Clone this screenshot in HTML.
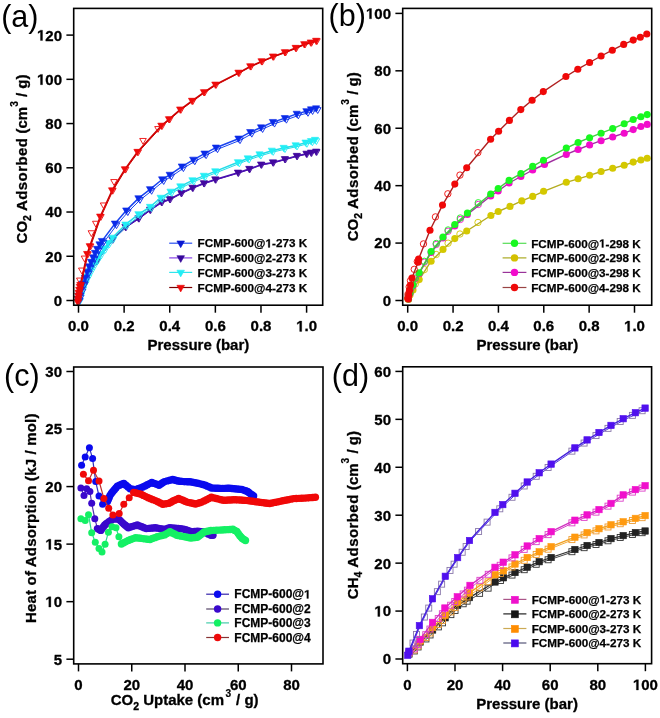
<!DOCTYPE html>
<html><head><meta charset="utf-8"><style>
html,body{margin:0;padding:0;background:#fff;width:660px;height:718px;overflow:hidden}
svg{display:block;filter:blur(0.35px)}
text{font-family:"Liberation Sans", sans-serif}
.t{font-size:15px;font-weight:bold;stroke:#000;stroke-width:0.3px}
.al{font-size:15px;font-weight:bold;stroke:#000;stroke-width:0.3px}
.lg{font-size:11.7px;font-weight:bold;stroke:#000;stroke-width:0.25px}
.pl{font-size:30.5px;font-weight:normal}
.one{fill:none;stroke:none}
.sup{font-size:10.2px;font-weight:bold;stroke:#000;stroke-width:0.2px}
</style></head><body>
<svg width="660" height="718" viewBox="0 0 660 718">
<rect width="660" height="718" fill="#fff"/>
<polyline points="79.1,300.9 80.6,295.4 85.1,284.4 97.2,261.4 112.9,239.9 126,227.4 139,218.8 150.6,210.2 162,202.6 170.3,199.6 181.7,193.5 193,188.2 204.4,183.7 215.8,179.9 238.5,173.1 249.8,169.4 261.6,165 273.5,162.9 285.4,159.6 297.3,156.4 307,154.2 311.6,153.1 316.7,152.1" fill="none" stroke="#4a10b0" stroke-width="1.0" stroke-linejoin="round" stroke-linecap="round" />
<polygon points="75.8,298.46 82.4,298.46 79.1,304.27" fill="none" stroke="#42089e" stroke-width="0.9"/>
<polygon points="77.3,292.96 83.9,292.96 80.6,298.77" fill="none" stroke="#42089e" stroke-width="0.9"/>
<polygon points="81.8,281.96 88.4,281.96 85.1,287.77" fill="none" stroke="#42089e" stroke-width="0.9"/>
<polygon points="93.9,258.96 100.5,258.96 97.2,264.77" fill="none" stroke="#42089e" stroke-width="0.9"/>
<polygon points="109.6,237.46 116.2,237.46 112.9,243.27" fill="none" stroke="#42089e" stroke-width="0.9"/>
<polygon points="122.7,224.96 129.3,224.96 126,230.77" fill="none" stroke="#42089e" stroke-width="0.9"/>
<polygon points="135.7,216.36 142.3,216.36 139,222.17" fill="none" stroke="#42089e" stroke-width="0.9"/>
<polygon points="147.3,207.76 153.9,207.76 150.6,213.57" fill="none" stroke="#42089e" stroke-width="0.9"/>
<polygon points="158.7,200.16 165.3,200.16 162,205.97" fill="none" stroke="#42089e" stroke-width="0.9"/>
<polygon points="167,197.16 173.6,197.16 170.3,202.97" fill="none" stroke="#42089e" stroke-width="0.9"/>
<polygon points="178.4,191.06 185,191.06 181.7,196.87" fill="none" stroke="#42089e" stroke-width="0.9"/>
<polygon points="189.7,185.76 196.3,185.76 193,191.57" fill="none" stroke="#42089e" stroke-width="0.9"/>
<polygon points="201.1,181.26 207.7,181.26 204.4,187.07" fill="none" stroke="#42089e" stroke-width="0.9"/>
<polygon points="212.5,177.46 219.1,177.46 215.8,183.27" fill="none" stroke="#42089e" stroke-width="0.9"/>
<polygon points="235.2,170.66 241.8,170.66 238.5,176.47" fill="none" stroke="#42089e" stroke-width="0.9"/>
<polygon points="246.5,166.96 253.1,166.96 249.8,172.77" fill="none" stroke="#42089e" stroke-width="0.9"/>
<polygon points="258.3,162.56 264.9,162.56 261.6,168.37" fill="none" stroke="#42089e" stroke-width="0.9"/>
<polygon points="270.2,160.46 276.8,160.46 273.5,166.27" fill="none" stroke="#42089e" stroke-width="0.9"/>
<polygon points="282.1,157.16 288.7,157.16 285.4,162.97" fill="none" stroke="#42089e" stroke-width="0.9"/>
<polygon points="294,153.96 300.6,153.96 297.3,159.77" fill="none" stroke="#42089e" stroke-width="0.9"/>
<polygon points="303.7,151.76 310.3,151.76 307,157.57" fill="none" stroke="#42089e" stroke-width="0.9"/>
<polygon points="308.3,150.66 314.9,150.66 311.6,156.47" fill="none" stroke="#42089e" stroke-width="0.9"/>
<polygon points="313.4,149.66 320,149.66 316.7,155.47" fill="none" stroke="#42089e" stroke-width="0.9"/>
<polyline points="78.5,300.5 80,295 84.5,284 96.6,261 112.3,239.5 125.4,227 138.4,218.4 150,209.8 161.4,202.2 169.7,199.2 181.1,193.1 192.4,187.8 203.8,183.3 215.2,179.5 237.9,172.7 249.2,169 261,164.6 272.9,162.5 284.8,159.2 296.7,156 306.4,153.8 311,152.7 316.1,151.7" fill="none" stroke="#4a10b0" stroke-width="1.5" stroke-linejoin="round" stroke-linecap="round" />
<polygon points="74.9,297.84 82.1,297.84 78.5,304.17" fill="#42089e" stroke="#42089e" stroke-width="0.6"/>
<polygon points="76.4,292.34 83.6,292.34 80,298.67" fill="#42089e" stroke="#42089e" stroke-width="0.6"/>
<polygon points="80.9,281.34 88.1,281.34 84.5,287.67" fill="#42089e" stroke="#42089e" stroke-width="0.6"/>
<polygon points="93,258.34 100.2,258.34 96.6,264.67" fill="#42089e" stroke="#42089e" stroke-width="0.6"/>
<polygon points="108.7,236.84 115.9,236.84 112.3,243.17" fill="#42089e" stroke="#42089e" stroke-width="0.6"/>
<polygon points="121.8,224.34 129,224.34 125.4,230.67" fill="#42089e" stroke="#42089e" stroke-width="0.6"/>
<polygon points="134.8,215.74 142,215.74 138.4,222.07" fill="#42089e" stroke="#42089e" stroke-width="0.6"/>
<polygon points="146.4,207.14 153.6,207.14 150,213.47" fill="#42089e" stroke="#42089e" stroke-width="0.6"/>
<polygon points="157.8,199.54 165,199.54 161.4,205.87" fill="#42089e" stroke="#42089e" stroke-width="0.6"/>
<polygon points="166.1,196.54 173.3,196.54 169.7,202.87" fill="#42089e" stroke="#42089e" stroke-width="0.6"/>
<polygon points="177.5,190.44 184.7,190.44 181.1,196.77" fill="#42089e" stroke="#42089e" stroke-width="0.6"/>
<polygon points="188.8,185.14 196,185.14 192.4,191.47" fill="#42089e" stroke="#42089e" stroke-width="0.6"/>
<polygon points="200.2,180.64 207.4,180.64 203.8,186.97" fill="#42089e" stroke="#42089e" stroke-width="0.6"/>
<polygon points="211.6,176.84 218.8,176.84 215.2,183.17" fill="#42089e" stroke="#42089e" stroke-width="0.6"/>
<polygon points="234.3,170.04 241.5,170.04 237.9,176.37" fill="#42089e" stroke="#42089e" stroke-width="0.6"/>
<polygon points="245.6,166.34 252.8,166.34 249.2,172.67" fill="#42089e" stroke="#42089e" stroke-width="0.6"/>
<polygon points="257.4,161.94 264.6,161.94 261,168.27" fill="#42089e" stroke="#42089e" stroke-width="0.6"/>
<polygon points="269.3,159.84 276.5,159.84 272.9,166.17" fill="#42089e" stroke="#42089e" stroke-width="0.6"/>
<polygon points="281.2,156.54 288.4,156.54 284.8,162.87" fill="#42089e" stroke="#42089e" stroke-width="0.6"/>
<polygon points="293.1,153.34 300.3,153.34 296.7,159.67" fill="#42089e" stroke="#42089e" stroke-width="0.6"/>
<polygon points="302.8,151.14 310,151.14 306.4,157.47" fill="#42089e" stroke="#42089e" stroke-width="0.6"/>
<polygon points="307.4,150.04 314.6,150.04 311,156.37" fill="#42089e" stroke="#42089e" stroke-width="0.6"/>
<polygon points="312.5,149.04 319.7,149.04 316.1,155.37" fill="#42089e" stroke="#42089e" stroke-width="0.6"/>
<polyline points="79.9,301.4 81.4,295.4 83.4,289.4 85.8,283.4 88.4,277.9 91.4,271.9 94.4,266.4 98,260.7 101.4,255.4 105.4,249.9 109.4,244.4 113.7,239 126.8,225.9 139.8,215.5 151.4,208.2 162,199.1 171.9,193 181.7,187.7 193.8,181.6 205.2,177.1 216.6,172.6 239.3,163.5 249.1,159.7 260.9,155.7 273.2,152 285,149.2 297,146.6 306.9,143.9 312.4,142.4 316.4,141.2" fill="none" stroke="#22dde8" stroke-width="1.0" stroke-linejoin="round" stroke-linecap="round" />
<polygon points="76.6,298.96 83.2,298.96 79.9,304.77" fill="none" stroke="#22eef5" stroke-width="0.9"/>
<polygon points="78.1,292.96 84.7,292.96 81.4,298.77" fill="none" stroke="#22eef5" stroke-width="0.9"/>
<polygon points="80.1,286.96 86.7,286.96 83.4,292.77" fill="none" stroke="#22eef5" stroke-width="0.9"/>
<polygon points="82.5,280.96 89.1,280.96 85.8,286.77" fill="none" stroke="#22eef5" stroke-width="0.9"/>
<polygon points="85.1,275.46 91.7,275.46 88.4,281.27" fill="none" stroke="#22eef5" stroke-width="0.9"/>
<polygon points="88.1,269.46 94.7,269.46 91.4,275.27" fill="none" stroke="#22eef5" stroke-width="0.9"/>
<polygon points="91.1,263.96 97.7,263.96 94.4,269.77" fill="none" stroke="#22eef5" stroke-width="0.9"/>
<polygon points="94.7,258.26 101.3,258.26 98,264.07" fill="none" stroke="#22eef5" stroke-width="0.9"/>
<polygon points="98.1,252.96 104.7,252.96 101.4,258.77" fill="none" stroke="#22eef5" stroke-width="0.9"/>
<polygon points="102.1,247.46 108.7,247.46 105.4,253.27" fill="none" stroke="#22eef5" stroke-width="0.9"/>
<polygon points="106.1,241.96 112.7,241.96 109.4,247.77" fill="none" stroke="#22eef5" stroke-width="0.9"/>
<polygon points="110.4,236.56 117,236.56 113.7,242.37" fill="none" stroke="#22eef5" stroke-width="0.9"/>
<polygon points="123.5,223.46 130.1,223.46 126.8,229.27" fill="none" stroke="#22eef5" stroke-width="0.9"/>
<polygon points="136.5,213.06 143.1,213.06 139.8,218.87" fill="none" stroke="#22eef5" stroke-width="0.9"/>
<polygon points="148.1,205.76 154.7,205.76 151.4,211.57" fill="none" stroke="#22eef5" stroke-width="0.9"/>
<polygon points="158.7,196.66 165.3,196.66 162,202.47" fill="none" stroke="#22eef5" stroke-width="0.9"/>
<polygon points="168.6,190.56 175.2,190.56 171.9,196.37" fill="none" stroke="#22eef5" stroke-width="0.9"/>
<polygon points="178.4,185.26 185,185.26 181.7,191.07" fill="none" stroke="#22eef5" stroke-width="0.9"/>
<polygon points="190.5,179.16 197.1,179.16 193.8,184.97" fill="none" stroke="#22eef5" stroke-width="0.9"/>
<polygon points="201.9,174.66 208.5,174.66 205.2,180.47" fill="none" stroke="#22eef5" stroke-width="0.9"/>
<polygon points="213.3,170.16 219.9,170.16 216.6,175.97" fill="none" stroke="#22eef5" stroke-width="0.9"/>
<polygon points="236,161.06 242.6,161.06 239.3,166.87" fill="none" stroke="#22eef5" stroke-width="0.9"/>
<polygon points="245.8,157.26 252.4,157.26 249.1,163.07" fill="none" stroke="#22eef5" stroke-width="0.9"/>
<polygon points="257.6,153.26 264.2,153.26 260.9,159.07" fill="none" stroke="#22eef5" stroke-width="0.9"/>
<polygon points="269.9,149.56 276.5,149.56 273.2,155.37" fill="none" stroke="#22eef5" stroke-width="0.9"/>
<polygon points="281.7,146.76 288.3,146.76 285,152.57" fill="none" stroke="#22eef5" stroke-width="0.9"/>
<polygon points="293.7,144.16 300.3,144.16 297,149.97" fill="none" stroke="#22eef5" stroke-width="0.9"/>
<polygon points="303.6,141.46 310.2,141.46 306.9,147.27" fill="none" stroke="#22eef5" stroke-width="0.9"/>
<polygon points="309.1,139.96 315.7,139.96 312.4,145.77" fill="none" stroke="#22eef5" stroke-width="0.9"/>
<polygon points="313.1,138.76 319.7,138.76 316.4,144.57" fill="none" stroke="#22eef5" stroke-width="0.9"/>
<polyline points="78.5,300.2 80,294.2 82,288.2 84.4,282.2 87,276.7 90,270.7 93,265.2 96.6,259.5 100,254.2 104,248.7 108,243.2 112.3,237.8 125.4,224.7 138.4,214.3 150,207 160.6,197.9 170.5,191.8 180.3,186.5 192.4,180.4 203.8,175.9 215.2,171.4 237.9,162.3 247.7,158.5 259.5,154.5 271.8,150.8 283.6,148 295.6,145.4 305.5,142.7 311,141.2 315,140" fill="none" stroke="#22dde8" stroke-width="1.5" stroke-linejoin="round" stroke-linecap="round" />
<polygon points="74.9,297.54 82.1,297.54 78.5,303.87" fill="#22eef5" stroke="#22eef5" stroke-width="0.6"/>
<polygon points="76.4,291.54 83.6,291.54 80,297.87" fill="#22eef5" stroke="#22eef5" stroke-width="0.6"/>
<polygon points="78.4,285.54 85.6,285.54 82,291.87" fill="#22eef5" stroke="#22eef5" stroke-width="0.6"/>
<polygon points="80.8,279.54 88,279.54 84.4,285.87" fill="#22eef5" stroke="#22eef5" stroke-width="0.6"/>
<polygon points="83.4,274.04 90.6,274.04 87,280.37" fill="#22eef5" stroke="#22eef5" stroke-width="0.6"/>
<polygon points="86.4,268.04 93.6,268.04 90,274.37" fill="#22eef5" stroke="#22eef5" stroke-width="0.6"/>
<polygon points="89.4,262.54 96.6,262.54 93,268.87" fill="#22eef5" stroke="#22eef5" stroke-width="0.6"/>
<polygon points="93,256.84 100.2,256.84 96.6,263.17" fill="#22eef5" stroke="#22eef5" stroke-width="0.6"/>
<polygon points="96.4,251.54 103.6,251.54 100,257.87" fill="#22eef5" stroke="#22eef5" stroke-width="0.6"/>
<polygon points="100.4,246.04 107.6,246.04 104,252.37" fill="#22eef5" stroke="#22eef5" stroke-width="0.6"/>
<polygon points="104.4,240.54 111.6,240.54 108,246.87" fill="#22eef5" stroke="#22eef5" stroke-width="0.6"/>
<polygon points="108.7,235.14 115.9,235.14 112.3,241.47" fill="#22eef5" stroke="#22eef5" stroke-width="0.6"/>
<polygon points="121.8,222.04 129,222.04 125.4,228.37" fill="#22eef5" stroke="#22eef5" stroke-width="0.6"/>
<polygon points="134.8,211.64 142,211.64 138.4,217.97" fill="#22eef5" stroke="#22eef5" stroke-width="0.6"/>
<polygon points="146.4,204.34 153.6,204.34 150,210.67" fill="#22eef5" stroke="#22eef5" stroke-width="0.6"/>
<polygon points="157,195.24 164.2,195.24 160.6,201.57" fill="#22eef5" stroke="#22eef5" stroke-width="0.6"/>
<polygon points="166.9,189.14 174.1,189.14 170.5,195.47" fill="#22eef5" stroke="#22eef5" stroke-width="0.6"/>
<polygon points="176.7,183.84 183.9,183.84 180.3,190.17" fill="#22eef5" stroke="#22eef5" stroke-width="0.6"/>
<polygon points="188.8,177.74 196,177.74 192.4,184.07" fill="#22eef5" stroke="#22eef5" stroke-width="0.6"/>
<polygon points="200.2,173.24 207.4,173.24 203.8,179.57" fill="#22eef5" stroke="#22eef5" stroke-width="0.6"/>
<polygon points="211.6,168.74 218.8,168.74 215.2,175.07" fill="#22eef5" stroke="#22eef5" stroke-width="0.6"/>
<polygon points="234.3,159.64 241.5,159.64 237.9,165.97" fill="#22eef5" stroke="#22eef5" stroke-width="0.6"/>
<polygon points="244.1,155.84 251.3,155.84 247.7,162.17" fill="#22eef5" stroke="#22eef5" stroke-width="0.6"/>
<polygon points="255.9,151.84 263.1,151.84 259.5,158.17" fill="#22eef5" stroke="#22eef5" stroke-width="0.6"/>
<polygon points="268.2,148.14 275.4,148.14 271.8,154.47" fill="#22eef5" stroke="#22eef5" stroke-width="0.6"/>
<polygon points="280,145.34 287.2,145.34 283.6,151.67" fill="#22eef5" stroke="#22eef5" stroke-width="0.6"/>
<polygon points="292,142.74 299.2,142.74 295.6,149.07" fill="#22eef5" stroke="#22eef5" stroke-width="0.6"/>
<polygon points="301.9,140.04 309.1,140.04 305.5,146.37" fill="#22eef5" stroke="#22eef5" stroke-width="0.6"/>
<polygon points="307.4,138.54 314.6,138.54 311,144.87" fill="#22eef5" stroke="#22eef5" stroke-width="0.6"/>
<polygon points="311.4,137.34 318.6,137.34 315,143.67" fill="#22eef5" stroke="#22eef5" stroke-width="0.6"/>
<polyline points="79.8,300.6 80.8,297.5 82.6,291.6 84.3,285.3 86.6,279.6 88.6,273.6 90.6,268.1 92.6,263.6 94.6,259.1 96.6,254.6 98.6,250.6 101.1,246.1 103.5,242.7 116.5,225.3 127.8,212.2 140,200 151.6,190.9 163.7,181.1 171.3,176.5 183.4,168.2 194.8,161.4 206.1,155.3 217.5,149.3 240,140.3 251.8,133.8 262.6,129.1 274.5,123.7 286.4,119.8 298.3,115.5 308,112.9 312.6,111.1 317.7,110.1" fill="none" stroke="#1a44f0" stroke-width="1.0" stroke-linejoin="round" stroke-linecap="round" />
<polygon points="76.5,298.16 83.1,298.16 79.8,303.97" fill="none" stroke="#0a2ae8" stroke-width="0.9"/>
<polygon points="77.5,295.06 84.1,295.06 80.8,300.87" fill="none" stroke="#0a2ae8" stroke-width="0.9"/>
<polygon points="79.3,289.16 85.9,289.16 82.6,294.97" fill="none" stroke="#0a2ae8" stroke-width="0.9"/>
<polygon points="81,282.86 87.6,282.86 84.3,288.67" fill="none" stroke="#0a2ae8" stroke-width="0.9"/>
<polygon points="83.3,277.16 89.9,277.16 86.6,282.97" fill="none" stroke="#0a2ae8" stroke-width="0.9"/>
<polygon points="85.3,271.16 91.9,271.16 88.6,276.97" fill="none" stroke="#0a2ae8" stroke-width="0.9"/>
<polygon points="87.3,265.66 93.9,265.66 90.6,271.47" fill="none" stroke="#0a2ae8" stroke-width="0.9"/>
<polygon points="89.3,261.16 95.9,261.16 92.6,266.97" fill="none" stroke="#0a2ae8" stroke-width="0.9"/>
<polygon points="91.3,256.66 97.9,256.66 94.6,262.47" fill="none" stroke="#0a2ae8" stroke-width="0.9"/>
<polygon points="93.3,252.16 99.9,252.16 96.6,257.97" fill="none" stroke="#0a2ae8" stroke-width="0.9"/>
<polygon points="95.3,248.16 101.9,248.16 98.6,253.97" fill="none" stroke="#0a2ae8" stroke-width="0.9"/>
<polygon points="97.8,243.66 104.4,243.66 101.1,249.47" fill="none" stroke="#0a2ae8" stroke-width="0.9"/>
<polygon points="100.2,240.26 106.8,240.26 103.5,246.07" fill="none" stroke="#0a2ae8" stroke-width="0.9"/>
<polygon points="113.2,222.86 119.8,222.86 116.5,228.67" fill="none" stroke="#0a2ae8" stroke-width="0.9"/>
<polygon points="124.5,209.76 131.1,209.76 127.8,215.57" fill="none" stroke="#0a2ae8" stroke-width="0.9"/>
<polygon points="136.7,197.56 143.3,197.56 140,203.37" fill="none" stroke="#0a2ae8" stroke-width="0.9"/>
<polygon points="148.3,188.46 154.9,188.46 151.6,194.27" fill="none" stroke="#0a2ae8" stroke-width="0.9"/>
<polygon points="160.4,178.66 167,178.66 163.7,184.47" fill="none" stroke="#0a2ae8" stroke-width="0.9"/>
<polygon points="168,174.06 174.6,174.06 171.3,179.87" fill="none" stroke="#0a2ae8" stroke-width="0.9"/>
<polygon points="180.1,165.76 186.7,165.76 183.4,171.57" fill="none" stroke="#0a2ae8" stroke-width="0.9"/>
<polygon points="191.5,158.96 198.1,158.96 194.8,164.77" fill="none" stroke="#0a2ae8" stroke-width="0.9"/>
<polygon points="202.8,152.86 209.4,152.86 206.1,158.67" fill="none" stroke="#0a2ae8" stroke-width="0.9"/>
<polygon points="214.2,146.86 220.8,146.86 217.5,152.67" fill="none" stroke="#0a2ae8" stroke-width="0.9"/>
<polygon points="236.7,137.86 243.3,137.86 240,143.67" fill="none" stroke="#0a2ae8" stroke-width="0.9"/>
<polygon points="248.5,131.36 255.1,131.36 251.8,137.17" fill="none" stroke="#0a2ae8" stroke-width="0.9"/>
<polygon points="259.3,126.66 265.9,126.66 262.6,132.47" fill="none" stroke="#0a2ae8" stroke-width="0.9"/>
<polygon points="271.2,121.26 277.8,121.26 274.5,127.07" fill="none" stroke="#0a2ae8" stroke-width="0.9"/>
<polygon points="283.1,117.36 289.7,117.36 286.4,123.17" fill="none" stroke="#0a2ae8" stroke-width="0.9"/>
<polygon points="295,113.06 301.6,113.06 298.3,118.87" fill="none" stroke="#0a2ae8" stroke-width="0.9"/>
<polygon points="304.7,110.46 311.3,110.46 308,116.27" fill="none" stroke="#0a2ae8" stroke-width="0.9"/>
<polygon points="309.3,108.66 315.9,108.66 312.6,114.47" fill="none" stroke="#0a2ae8" stroke-width="0.9"/>
<polygon points="314.4,107.66 321,107.66 317.7,113.47" fill="none" stroke="#0a2ae8" stroke-width="0.9"/>
<polyline points="78.2,299 79.2,295.9 81,290 82.7,283.7 85,278 87,272 89,266.5 91,262 93,257.5 95,253 97,249 99.5,244.5 101.9,241.1 114.9,223.7 126.2,210.6 138.4,198.4 150,189.3 162.1,179.5 169.7,174.9 181.8,166.6 193.2,159.8 204.5,153.7 215.9,147.7 238.4,138.7 250.2,132.2 261,127.5 272.9,122.1 284.8,118.2 296.7,113.9 306.4,111.3 311,109.5 316.1,108.5" fill="none" stroke="#1a44f0" stroke-width="1.5" stroke-linejoin="round" stroke-linecap="round" />
<polygon points="74.6,296.34 81.8,296.34 78.2,302.67" fill="#0a2ae8" stroke="#0a2ae8" stroke-width="0.6"/>
<polygon points="75.6,293.24 82.8,293.24 79.2,299.57" fill="#0a2ae8" stroke="#0a2ae8" stroke-width="0.6"/>
<polygon points="77.4,287.34 84.6,287.34 81,293.67" fill="#0a2ae8" stroke="#0a2ae8" stroke-width="0.6"/>
<polygon points="79.1,281.04 86.3,281.04 82.7,287.37" fill="#0a2ae8" stroke="#0a2ae8" stroke-width="0.6"/>
<polygon points="81.4,275.34 88.6,275.34 85,281.67" fill="#0a2ae8" stroke="#0a2ae8" stroke-width="0.6"/>
<polygon points="83.4,269.34 90.6,269.34 87,275.67" fill="#0a2ae8" stroke="#0a2ae8" stroke-width="0.6"/>
<polygon points="85.4,263.84 92.6,263.84 89,270.17" fill="#0a2ae8" stroke="#0a2ae8" stroke-width="0.6"/>
<polygon points="87.4,259.34 94.6,259.34 91,265.67" fill="#0a2ae8" stroke="#0a2ae8" stroke-width="0.6"/>
<polygon points="89.4,254.84 96.6,254.84 93,261.17" fill="#0a2ae8" stroke="#0a2ae8" stroke-width="0.6"/>
<polygon points="91.4,250.34 98.6,250.34 95,256.67" fill="#0a2ae8" stroke="#0a2ae8" stroke-width="0.6"/>
<polygon points="93.4,246.34 100.6,246.34 97,252.67" fill="#0a2ae8" stroke="#0a2ae8" stroke-width="0.6"/>
<polygon points="95.9,241.84 103.1,241.84 99.5,248.17" fill="#0a2ae8" stroke="#0a2ae8" stroke-width="0.6"/>
<polygon points="98.3,238.44 105.5,238.44 101.9,244.77" fill="#0a2ae8" stroke="#0a2ae8" stroke-width="0.6"/>
<polygon points="111.3,221.04 118.5,221.04 114.9,227.37" fill="#0a2ae8" stroke="#0a2ae8" stroke-width="0.6"/>
<polygon points="122.6,207.94 129.8,207.94 126.2,214.27" fill="#0a2ae8" stroke="#0a2ae8" stroke-width="0.6"/>
<polygon points="134.8,195.74 142,195.74 138.4,202.07" fill="#0a2ae8" stroke="#0a2ae8" stroke-width="0.6"/>
<polygon points="146.4,186.64 153.6,186.64 150,192.97" fill="#0a2ae8" stroke="#0a2ae8" stroke-width="0.6"/>
<polygon points="158.5,176.84 165.7,176.84 162.1,183.17" fill="#0a2ae8" stroke="#0a2ae8" stroke-width="0.6"/>
<polygon points="166.1,172.24 173.3,172.24 169.7,178.57" fill="#0a2ae8" stroke="#0a2ae8" stroke-width="0.6"/>
<polygon points="178.2,163.94 185.4,163.94 181.8,170.27" fill="#0a2ae8" stroke="#0a2ae8" stroke-width="0.6"/>
<polygon points="189.6,157.14 196.8,157.14 193.2,163.47" fill="#0a2ae8" stroke="#0a2ae8" stroke-width="0.6"/>
<polygon points="200.9,151.04 208.1,151.04 204.5,157.37" fill="#0a2ae8" stroke="#0a2ae8" stroke-width="0.6"/>
<polygon points="212.3,145.04 219.5,145.04 215.9,151.37" fill="#0a2ae8" stroke="#0a2ae8" stroke-width="0.6"/>
<polygon points="234.8,136.04 242,136.04 238.4,142.37" fill="#0a2ae8" stroke="#0a2ae8" stroke-width="0.6"/>
<polygon points="246.6,129.54 253.8,129.54 250.2,135.87" fill="#0a2ae8" stroke="#0a2ae8" stroke-width="0.6"/>
<polygon points="257.4,124.84 264.6,124.84 261,131.17" fill="#0a2ae8" stroke="#0a2ae8" stroke-width="0.6"/>
<polygon points="269.3,119.44 276.5,119.44 272.9,125.77" fill="#0a2ae8" stroke="#0a2ae8" stroke-width="0.6"/>
<polygon points="281.2,115.54 288.4,115.54 284.8,121.87" fill="#0a2ae8" stroke="#0a2ae8" stroke-width="0.6"/>
<polygon points="293.1,111.24 300.3,111.24 296.7,117.57" fill="#0a2ae8" stroke="#0a2ae8" stroke-width="0.6"/>
<polygon points="302.8,108.64 310,108.64 306.4,114.97" fill="#0a2ae8" stroke="#0a2ae8" stroke-width="0.6"/>
<polygon points="307.4,106.84 314.6,106.84 311,113.17" fill="#0a2ae8" stroke="#0a2ae8" stroke-width="0.6"/>
<polygon points="312.5,105.84 319.7,105.84 316.1,112.17" fill="#0a2ae8" stroke="#0a2ae8" stroke-width="0.6"/>
<polyline points="78.3,302.3 78.6,299.3 79,296.3 79.4,293.3 80,290.3 80.6,287.3 81.1,285.3 87.9,254.4 90.5,246.6 100.9,217 112.8,190.8 125.6,169.7 138.2,152.3 162.1,126.1 169.7,119.6 180.9,109.9 192.8,101.2 204.7,92.6 216.1,85 239.2,73.1 251,66.7 262.3,61.7 273.7,56.9 285.6,52.6 296.4,48.3 305,44.6 311.5,42.9 316.9,41.2" fill="none" stroke="#cc0000" stroke-width="1.0" stroke-linejoin="round" stroke-linecap="round" />
<polygon points="75,299.86 81.6,299.86 78.3,305.67" fill="none" stroke="#ee0a0a" stroke-width="0.9"/>
<polygon points="75.3,296.86 81.9,296.86 78.6,302.67" fill="none" stroke="#ee0a0a" stroke-width="0.9"/>
<polygon points="75.7,293.86 82.3,293.86 79,299.67" fill="none" stroke="#ee0a0a" stroke-width="0.9"/>
<polygon points="76.1,290.86 82.7,290.86 79.4,296.67" fill="none" stroke="#ee0a0a" stroke-width="0.9"/>
<polygon points="76.7,287.86 83.3,287.86 80,293.67" fill="none" stroke="#ee0a0a" stroke-width="0.9"/>
<polygon points="77.3,284.86 83.9,284.86 80.6,290.67" fill="none" stroke="#ee0a0a" stroke-width="0.9"/>
<polygon points="77.8,282.86 84.4,282.86 81.1,288.67" fill="none" stroke="#ee0a0a" stroke-width="0.9"/>
<polygon points="84.6,251.96 91.2,251.96 87.9,257.77" fill="none" stroke="#ee0a0a" stroke-width="0.9"/>
<polygon points="87.2,244.16 93.8,244.16 90.5,249.97" fill="none" stroke="#ee0a0a" stroke-width="0.9"/>
<polygon points="97.6,214.56 104.2,214.56 100.9,220.37" fill="none" stroke="#ee0a0a" stroke-width="0.9"/>
<polygon points="109.5,188.36 116.1,188.36 112.8,194.17" fill="none" stroke="#ee0a0a" stroke-width="0.9"/>
<polygon points="122.3,167.26 128.9,167.26 125.6,173.07" fill="none" stroke="#ee0a0a" stroke-width="0.9"/>
<polygon points="134.9,149.86 141.5,149.86 138.2,155.67" fill="none" stroke="#ee0a0a" stroke-width="0.9"/>
<polygon points="158.8,123.66 165.4,123.66 162.1,129.47" fill="none" stroke="#ee0a0a" stroke-width="0.9"/>
<polygon points="166.4,117.16 173,117.16 169.7,122.97" fill="none" stroke="#ee0a0a" stroke-width="0.9"/>
<polygon points="177.6,107.46 184.2,107.46 180.9,113.27" fill="none" stroke="#ee0a0a" stroke-width="0.9"/>
<polygon points="189.5,98.76 196.1,98.76 192.8,104.57" fill="none" stroke="#ee0a0a" stroke-width="0.9"/>
<polygon points="201.4,90.16 208,90.16 204.7,95.97" fill="none" stroke="#ee0a0a" stroke-width="0.9"/>
<polygon points="212.8,82.56 219.4,82.56 216.1,88.37" fill="none" stroke="#ee0a0a" stroke-width="0.9"/>
<polygon points="235.9,70.66 242.5,70.66 239.2,76.47" fill="none" stroke="#ee0a0a" stroke-width="0.9"/>
<polygon points="247.7,64.26 254.3,64.26 251,70.07" fill="none" stroke="#ee0a0a" stroke-width="0.9"/>
<polygon points="259,59.26 265.6,59.26 262.3,65.07" fill="none" stroke="#ee0a0a" stroke-width="0.9"/>
<polygon points="270.4,54.46 277,54.46 273.7,60.27" fill="none" stroke="#ee0a0a" stroke-width="0.9"/>
<polygon points="282.3,50.16 288.9,50.16 285.6,55.97" fill="none" stroke="#ee0a0a" stroke-width="0.9"/>
<polygon points="293.1,45.86 299.7,45.86 296.4,51.67" fill="none" stroke="#ee0a0a" stroke-width="0.9"/>
<polygon points="301.7,42.16 308.3,42.16 305,47.97" fill="none" stroke="#ee0a0a" stroke-width="0.9"/>
<polygon points="308.2,40.46 314.8,40.46 311.5,46.27" fill="none" stroke="#ee0a0a" stroke-width="0.9"/>
<polygon points="313.6,38.76 320.2,38.76 316.9,44.57" fill="none" stroke="#ee0a0a" stroke-width="0.9"/>
<polyline points="77.5,302 77.8,299 78.2,296 78.6,293 79.2,290 79.8,287 80.3,285 87.1,254.1 89.7,246.3 100.1,216.7 112,190.5 124.8,169.4 137.4,152 161.3,125.8 168.9,119.3 180.1,109.6 192,100.9 203.9,92.3 215.3,84.7 238.4,72.8 250.2,66.4 261.5,61.4 272.9,56.6 284.8,52.3 295.6,48 304.2,44.3 310.7,42.6 316.1,40.9" fill="none" stroke="#cc0000" stroke-width="1.5" stroke-linejoin="round" stroke-linecap="round" />
<polygon points="73.9,299.34 81.1,299.34 77.5,305.67" fill="#ee0a0a" stroke="#ee0a0a" stroke-width="0.6"/>
<polygon points="74.2,296.34 81.4,296.34 77.8,302.67" fill="#ee0a0a" stroke="#ee0a0a" stroke-width="0.6"/>
<polygon points="74.6,293.34 81.8,293.34 78.2,299.67" fill="#ee0a0a" stroke="#ee0a0a" stroke-width="0.6"/>
<polygon points="75,290.34 82.2,290.34 78.6,296.67" fill="#ee0a0a" stroke="#ee0a0a" stroke-width="0.6"/>
<polygon points="75.6,287.34 82.8,287.34 79.2,293.67" fill="#ee0a0a" stroke="#ee0a0a" stroke-width="0.6"/>
<polygon points="76.2,284.34 83.4,284.34 79.8,290.67" fill="#ee0a0a" stroke="#ee0a0a" stroke-width="0.6"/>
<polygon points="76.7,282.34 83.9,282.34 80.3,288.67" fill="#ee0a0a" stroke="#ee0a0a" stroke-width="0.6"/>
<polygon points="83.5,251.44 90.7,251.44 87.1,257.77" fill="#ee0a0a" stroke="#ee0a0a" stroke-width="0.6"/>
<polygon points="86.1,243.64 93.3,243.64 89.7,249.97" fill="#ee0a0a" stroke="#ee0a0a" stroke-width="0.6"/>
<polygon points="96.5,214.04 103.7,214.04 100.1,220.37" fill="#ee0a0a" stroke="#ee0a0a" stroke-width="0.6"/>
<polygon points="108.4,187.84 115.6,187.84 112,194.17" fill="#ee0a0a" stroke="#ee0a0a" stroke-width="0.6"/>
<polygon points="121.2,166.74 128.4,166.74 124.8,173.07" fill="#ee0a0a" stroke="#ee0a0a" stroke-width="0.6"/>
<polygon points="133.8,149.34 141,149.34 137.4,155.67" fill="#ee0a0a" stroke="#ee0a0a" stroke-width="0.6"/>
<polygon points="157.7,123.14 164.9,123.14 161.3,129.47" fill="#ee0a0a" stroke="#ee0a0a" stroke-width="0.6"/>
<polygon points="165.3,116.64 172.5,116.64 168.9,122.97" fill="#ee0a0a" stroke="#ee0a0a" stroke-width="0.6"/>
<polygon points="176.5,106.94 183.7,106.94 180.1,113.27" fill="#ee0a0a" stroke="#ee0a0a" stroke-width="0.6"/>
<polygon points="188.4,98.24 195.6,98.24 192,104.57" fill="#ee0a0a" stroke="#ee0a0a" stroke-width="0.6"/>
<polygon points="200.3,89.64 207.5,89.64 203.9,95.97" fill="#ee0a0a" stroke="#ee0a0a" stroke-width="0.6"/>
<polygon points="211.7,82.04 218.9,82.04 215.3,88.37" fill="#ee0a0a" stroke="#ee0a0a" stroke-width="0.6"/>
<polygon points="234.8,70.14 242,70.14 238.4,76.47" fill="#ee0a0a" stroke="#ee0a0a" stroke-width="0.6"/>
<polygon points="246.6,63.74 253.8,63.74 250.2,70.07" fill="#ee0a0a" stroke="#ee0a0a" stroke-width="0.6"/>
<polygon points="257.9,58.74 265.1,58.74 261.5,65.07" fill="#ee0a0a" stroke="#ee0a0a" stroke-width="0.6"/>
<polygon points="269.3,53.94 276.5,53.94 272.9,60.27" fill="#ee0a0a" stroke="#ee0a0a" stroke-width="0.6"/>
<polygon points="281.2,49.64 288.4,49.64 284.8,55.97" fill="#ee0a0a" stroke="#ee0a0a" stroke-width="0.6"/>
<polygon points="292,45.34 299.2,45.34 295.6,51.67" fill="#ee0a0a" stroke="#ee0a0a" stroke-width="0.6"/>
<polygon points="300.6,41.64 307.8,41.64 304.2,47.97" fill="#ee0a0a" stroke="#ee0a0a" stroke-width="0.6"/>
<polygon points="307.1,39.94 314.3,39.94 310.7,46.27" fill="#ee0a0a" stroke="#ee0a0a" stroke-width="0.6"/>
<polygon points="312.5,38.24 319.7,38.24 316.1,44.57" fill="#ee0a0a" stroke="#ee0a0a" stroke-width="0.6"/>
<polygon points="76.5,278.06 83.1,278.06 79.8,283.87" fill="none" stroke="#ee0a0a" stroke-width="0.9"/>
<polygon points="78.5,268.06 85.1,268.06 81.8,273.87" fill="none" stroke="#ee0a0a" stroke-width="0.9"/>
<polygon points="81.2,256.06 87.8,256.06 84.5,261.87" fill="none" stroke="#ee0a0a" stroke-width="0.9"/>
<polygon points="88.1,230.76 94.7,230.76 91.4,236.57" fill="none" stroke="#ee0a0a" stroke-width="0.9"/>
<polygon points="92.5,221.26 99.1,221.26 95.8,227.07" fill="none" stroke="#ee0a0a" stroke-width="0.9"/>
<polygon points="100.3,202.96 106.9,202.96 103.6,208.77" fill="none" stroke="#ee0a0a" stroke-width="0.9"/>
<polygon points="110.7,179.56 117.3,179.56 114,185.37" fill="none" stroke="#ee0a0a" stroke-width="0.9"/>
<polygon points="139.7,138.46 146.3,138.46 143,144.27" fill="none" stroke="#ee0a0a" stroke-width="0.9"/>
<polygon points="154.7,126.56 161.3,126.56 158,132.37" fill="none" stroke="#ee0a0a" stroke-width="0.9"/>
<circle cx="407.7" cy="298.7" r="3.2" fill="none" stroke="#d4c800" stroke-width="0.9"/>
<circle cx="410.7" cy="291.7" r="3.2" fill="none" stroke="#d4c800" stroke-width="0.9"/>
<circle cx="415.3" cy="284" r="3.2" fill="none" stroke="#d4c800" stroke-width="0.9"/>
<circle cx="424.35" cy="269.6" r="3.2" fill="none" stroke="#d4c800" stroke-width="0.9"/>
<circle cx="436.25" cy="254.5" r="3.2" fill="none" stroke="#d4c800" stroke-width="0.9"/>
<circle cx="448.1" cy="243.2" r="3.2" fill="none" stroke="#d4c800" stroke-width="0.9"/>
<circle cx="459.95" cy="234" r="3.2" fill="none" stroke="#d4c800" stroke-width="0.9"/>
<circle cx="478" cy="222.45" r="3.2" fill="none" stroke="#d4c800" stroke-width="0.9"/>
<polyline points="408.5,299.5 410,295 413,290 419.2,279.6 431.1,261.2 443,249.4 454.8,238.6 466.7,231 490.9,215.5 498.2,211.5 510,206.4 521.8,200.9 532.7,196.4 543.6,191.3 566.3,182.3 578.1,178.8 589.6,175.3 601.1,171.5 612.7,168.3 624.2,165.3 633.2,162.1 640.9,160 647.2,158.3" fill="none" stroke="#b4ac20" stroke-width="1.4" stroke-linejoin="round" stroke-linecap="round" />
<circle cx="408.5" cy="299.5" r="3.55" fill="#d4c800"/>
<circle cx="410" cy="295" r="3.55" fill="#d4c800"/>
<circle cx="413" cy="290" r="3.55" fill="#d4c800"/>
<circle cx="419.2" cy="279.6" r="3.55" fill="#d4c800"/>
<circle cx="431.1" cy="261.2" r="3.55" fill="#d4c800"/>
<circle cx="443" cy="249.4" r="3.55" fill="#d4c800"/>
<circle cx="454.8" cy="238.6" r="3.55" fill="#d4c800"/>
<circle cx="466.7" cy="231" r="3.55" fill="#d4c800"/>
<circle cx="490.9" cy="215.5" r="3.55" fill="#d4c800"/>
<circle cx="498.2" cy="211.5" r="3.55" fill="#d4c800"/>
<circle cx="510" cy="206.4" r="3.55" fill="#d4c800"/>
<circle cx="521.8" cy="200.9" r="3.55" fill="#d4c800"/>
<circle cx="532.7" cy="196.4" r="3.55" fill="#d4c800"/>
<circle cx="543.6" cy="191.3" r="3.55" fill="#d4c800"/>
<circle cx="566.3" cy="182.3" r="3.55" fill="#d4c800"/>
<circle cx="578.1" cy="178.8" r="3.55" fill="#d4c800"/>
<circle cx="589.6" cy="175.3" r="3.55" fill="#d4c800"/>
<circle cx="601.1" cy="171.5" r="3.55" fill="#d4c800"/>
<circle cx="612.7" cy="168.3" r="3.55" fill="#d4c800"/>
<circle cx="624.2" cy="165.3" r="3.55" fill="#d4c800"/>
<circle cx="633.2" cy="162.1" r="3.55" fill="#d4c800"/>
<circle cx="640.9" cy="160" r="3.55" fill="#d4c800"/>
<circle cx="647.2" cy="158.3" r="3.55" fill="#d4c800"/>
<circle cx="408.45" cy="295.45" r="3.2" fill="none" stroke="#f20ccc" stroke-width="0.9"/>
<circle cx="410.7" cy="288.95" r="3.2" fill="none" stroke="#f20ccc" stroke-width="0.9"/>
<circle cx="415.3" cy="278.95" r="3.2" fill="none" stroke="#f20ccc" stroke-width="0.9"/>
<circle cx="424.35" cy="262.2" r="3.2" fill="none" stroke="#f20ccc" stroke-width="0.9"/>
<circle cx="436.25" cy="244.45" r="3.2" fill="none" stroke="#f20ccc" stroke-width="0.9"/>
<circle cx="448.1" cy="231.2" r="3.2" fill="none" stroke="#f20ccc" stroke-width="0.9"/>
<circle cx="460.3" cy="219.45" r="3.2" fill="none" stroke="#f20ccc" stroke-width="0.9"/>
<circle cx="478.25" cy="204.45" r="3.2" fill="none" stroke="#f20ccc" stroke-width="0.9"/>
<polyline points="408.5,299 410,293.5 413,286 419.2,273.5 431.1,252.5 443,238 454.8,226 467.4,214.5 490.7,196 498.2,191 509.1,183 520.9,176.5 532.7,170 544.5,164.5 566.3,154.4 578.1,149.5 589.6,144.9 601.1,140.7 612.7,137 624.2,133.2 633.2,129.6 640.9,126.5 647.2,124.4" fill="none" stroke="#a030a0" stroke-width="1.4" stroke-linejoin="round" stroke-linecap="round" />
<circle cx="408.5" cy="299" r="3.55" fill="#f20ccc"/>
<circle cx="410" cy="293.5" r="3.55" fill="#f20ccc"/>
<circle cx="413" cy="286" r="3.55" fill="#f20ccc"/>
<circle cx="419.2" cy="273.5" r="3.55" fill="#f20ccc"/>
<circle cx="431.1" cy="252.5" r="3.55" fill="#f20ccc"/>
<circle cx="443" cy="238" r="3.55" fill="#f20ccc"/>
<circle cx="454.8" cy="226" r="3.55" fill="#f20ccc"/>
<circle cx="467.4" cy="214.5" r="3.55" fill="#f20ccc"/>
<circle cx="490.7" cy="196" r="3.55" fill="#f20ccc"/>
<circle cx="498.2" cy="191" r="3.55" fill="#f20ccc"/>
<circle cx="509.1" cy="183" r="3.55" fill="#f20ccc"/>
<circle cx="520.9" cy="176.5" r="3.55" fill="#f20ccc"/>
<circle cx="532.7" cy="170" r="3.55" fill="#f20ccc"/>
<circle cx="544.5" cy="164.5" r="3.55" fill="#f20ccc"/>
<circle cx="566.3" cy="154.4" r="3.55" fill="#f20ccc"/>
<circle cx="578.1" cy="149.5" r="3.55" fill="#f20ccc"/>
<circle cx="589.6" cy="144.9" r="3.55" fill="#f20ccc"/>
<circle cx="601.1" cy="140.7" r="3.55" fill="#f20ccc"/>
<circle cx="612.7" cy="137" r="3.55" fill="#f20ccc"/>
<circle cx="624.2" cy="133.2" r="3.55" fill="#f20ccc"/>
<circle cx="633.2" cy="129.6" r="3.55" fill="#f20ccc"/>
<circle cx="640.9" cy="126.5" r="3.55" fill="#f20ccc"/>
<circle cx="647.2" cy="124.4" r="3.55" fill="#f20ccc"/>
<circle cx="408.45" cy="295.2" r="3.2" fill="none" stroke="#18f820" stroke-width="0.9"/>
<circle cx="410.7" cy="288.2" r="3.2" fill="none" stroke="#18f820" stroke-width="0.9"/>
<circle cx="415.3" cy="278.05" r="3.2" fill="none" stroke="#18f820" stroke-width="0.9"/>
<circle cx="424.35" cy="261.3" r="3.2" fill="none" stroke="#18f820" stroke-width="0.9"/>
<circle cx="436.25" cy="243.45" r="3.2" fill="none" stroke="#18f820" stroke-width="0.9"/>
<circle cx="448.1" cy="229.95" r="3.2" fill="none" stroke="#18f820" stroke-width="0.9"/>
<circle cx="460.3" cy="218" r="3.2" fill="none" stroke="#18f820" stroke-width="0.9"/>
<circle cx="478.25" cy="202.75" r="3.2" fill="none" stroke="#18f820" stroke-width="0.9"/>
<polyline points="408.5,299 410,293 413,285 419.2,272.7 431.1,251.5 443,237 454.8,224.5 467.4,213.1 490.7,194 498.2,188.5 509.1,180.4 520.9,173.6 532.7,166.4 543.5,160.2 566.3,148.1 578.1,142.5 589.6,137.7 601.1,133.2 612.7,128.6 624.2,123.7 633.2,119.5 640.9,116.7 647.2,114.6" fill="none" stroke="#40cc40" stroke-width="1.4" stroke-linejoin="round" stroke-linecap="round" />
<circle cx="408.5" cy="299" r="3.55" fill="#18f820"/>
<circle cx="410" cy="293" r="3.55" fill="#18f820"/>
<circle cx="413" cy="285" r="3.55" fill="#18f820"/>
<circle cx="419.2" cy="272.7" r="3.55" fill="#18f820"/>
<circle cx="431.1" cy="251.5" r="3.55" fill="#18f820"/>
<circle cx="443" cy="237" r="3.55" fill="#18f820"/>
<circle cx="454.8" cy="224.5" r="3.55" fill="#18f820"/>
<circle cx="467.4" cy="213.1" r="3.55" fill="#18f820"/>
<circle cx="490.7" cy="194" r="3.55" fill="#18f820"/>
<circle cx="498.2" cy="188.5" r="3.55" fill="#18f820"/>
<circle cx="509.1" cy="180.4" r="3.55" fill="#18f820"/>
<circle cx="520.9" cy="173.6" r="3.55" fill="#18f820"/>
<circle cx="532.7" cy="166.4" r="3.55" fill="#18f820"/>
<circle cx="543.5" cy="160.2" r="3.55" fill="#18f820"/>
<circle cx="566.3" cy="148.1" r="3.55" fill="#18f820"/>
<circle cx="578.1" cy="142.5" r="3.55" fill="#18f820"/>
<circle cx="589.6" cy="137.7" r="3.55" fill="#18f820"/>
<circle cx="601.1" cy="133.2" r="3.55" fill="#18f820"/>
<circle cx="612.7" cy="128.6" r="3.55" fill="#18f820"/>
<circle cx="624.2" cy="123.7" r="3.55" fill="#18f820"/>
<circle cx="633.2" cy="119.5" r="3.55" fill="#18f820"/>
<circle cx="640.9" cy="116.7" r="3.55" fill="#18f820"/>
<circle cx="647.2" cy="114.6" r="3.55" fill="#18f820"/>
<circle cx="407.6" cy="298.2" r="3.2" fill="none" stroke="#f00808" stroke-width="0.9"/>
<circle cx="408" cy="294.2" r="3.2" fill="none" stroke="#f00808" stroke-width="0.9"/>
<circle cx="409.2" cy="286.9" r="3.2" fill="none" stroke="#f00808" stroke-width="0.9"/>
<circle cx="410.45" cy="280.7" r="3.2" fill="none" stroke="#f00808" stroke-width="0.9"/>
<circle cx="414.25" cy="269.35" r="3.2" fill="none" stroke="#f00808" stroke-width="0.9"/>
<circle cx="417.3" cy="261.5" r="3.2" fill="none" stroke="#f00808" stroke-width="0.9"/>
<circle cx="423.5" cy="243.9" r="3.2" fill="none" stroke="#f00808" stroke-width="0.9"/>
<circle cx="435.45" cy="216.9" r="3.2" fill="none" stroke="#f00808" stroke-width="0.9"/>
<circle cx="447.85" cy="193.8" r="3.2" fill="none" stroke="#f00808" stroke-width="0.9"/>
<circle cx="459.95" cy="175.1" r="3.2" fill="none" stroke="#f00808" stroke-width="0.9"/>
<circle cx="477.85" cy="152.65" r="3.2" fill="none" stroke="#f00808" stroke-width="0.9"/>
<polyline points="408.4,299 408.8,295 409.5,290.4 410.5,285 412,278 418.1,262.3 418.6,259.1 430,230.3 442.5,205.1 454.8,184.1 466.7,167.7 490.6,139.2 498.6,131.2 509.4,120.4 520.8,109.6 532.1,100.3 543.3,91.6 565.9,76.5 577.8,69.2 589.6,62.5 601.1,56 612.3,50.2 623.7,44.4 633.2,40.1 640.3,37.3 646.8,34" fill="none" stroke="#b02020" stroke-width="1.4" stroke-linejoin="round" stroke-linecap="round" />
<circle cx="408.4" cy="299" r="3.55" fill="#f00808"/>
<circle cx="408.8" cy="295" r="3.55" fill="#f00808"/>
<circle cx="409.5" cy="290.4" r="3.55" fill="#f00808"/>
<circle cx="410.5" cy="285" r="3.55" fill="#f00808"/>
<circle cx="412" cy="278" r="3.55" fill="#f00808"/>
<circle cx="418.1" cy="262.3" r="3.55" fill="#f00808"/>
<circle cx="418.6" cy="259.1" r="3.55" fill="#f00808"/>
<circle cx="430" cy="230.3" r="3.55" fill="#f00808"/>
<circle cx="442.5" cy="205.1" r="3.55" fill="#f00808"/>
<circle cx="454.8" cy="184.1" r="3.55" fill="#f00808"/>
<circle cx="466.7" cy="167.7" r="3.55" fill="#f00808"/>
<circle cx="490.6" cy="139.2" r="3.55" fill="#f00808"/>
<circle cx="498.6" cy="131.2" r="3.55" fill="#f00808"/>
<circle cx="509.4" cy="120.4" r="3.55" fill="#f00808"/>
<circle cx="520.8" cy="109.6" r="3.55" fill="#f00808"/>
<circle cx="532.1" cy="100.3" r="3.55" fill="#f00808"/>
<circle cx="543.3" cy="91.6" r="3.55" fill="#f00808"/>
<circle cx="565.9" cy="76.5" r="3.55" fill="#f00808"/>
<circle cx="577.8" cy="69.2" r="3.55" fill="#f00808"/>
<circle cx="589.6" cy="62.5" r="3.55" fill="#f00808"/>
<circle cx="601.1" cy="56" r="3.55" fill="#f00808"/>
<circle cx="612.3" cy="50.2" r="3.55" fill="#f00808"/>
<circle cx="623.7" cy="44.4" r="3.55" fill="#f00808"/>
<circle cx="633.2" cy="40.1" r="3.55" fill="#f00808"/>
<circle cx="640.3" cy="37.3" r="3.55" fill="#f00808"/>
<circle cx="646.8" cy="34" r="3.55" fill="#f00808"/>
<polyline points="81.6,465.3 85.2,457.1 89.4,447.7 92.6,458.6 95.7,481.6 99,496 102.6,504.2 107.5,501.5 110.2,495.1 112.9,491.5 117.4,486.1 123.8,483.4 130.1,488.8 135.5,489.7 142.8,487 151.8,482.5 159,485.2 164.5,481.6 172.6,479.5 178,481 184,481.6 190,481.8 197.7,483.2 205.3,485.2 211.4,488 220.5,488.4 229.5,488.3 241.7,489.4 247.5,491.5 250.2,493.6 253.6,496" fill="none" stroke="#3030c0" stroke-width="1.2" stroke-linejoin="round" stroke-linecap="round" />
<circle cx="81.6" cy="465.3" r="3.5" fill="#0a0aee"/>
<circle cx="85.2" cy="457.1" r="3.5" fill="#0a0aee"/>
<circle cx="89.4" cy="447.7" r="3.5" fill="#0a0aee"/>
<circle cx="92.6" cy="458.6" r="3.5" fill="#0a0aee"/>
<circle cx="95.7" cy="481.6" r="3.5" fill="#0a0aee"/>
<circle cx="99" cy="496" r="3.5" fill="#0a0aee"/>
<circle cx="102.6" cy="504.2" r="3.5" fill="#0a0aee"/>
<circle cx="107.5" cy="501.5" r="3.7" fill="#0a0aee"/>
<circle cx="108.4" cy="499.37" r="3.7" fill="#0a0aee"/>
<circle cx="109.3" cy="497.23" r="3.7" fill="#0a0aee"/>
<circle cx="110.2" cy="495.1" r="3.7" fill="#0a0aee"/>
<circle cx="111.55" cy="493.3" r="3.7" fill="#0a0aee"/>
<circle cx="112.9" cy="491.5" r="3.7" fill="#0a0aee"/>
<circle cx="114.4" cy="489.7" r="3.7" fill="#0a0aee"/>
<circle cx="115.9" cy="487.9" r="3.7" fill="#0a0aee"/>
<circle cx="117.4" cy="486.1" r="3.7" fill="#0a0aee"/>
<circle cx="119.53" cy="485.2" r="3.7" fill="#0a0aee"/>
<circle cx="121.67" cy="484.3" r="3.7" fill="#0a0aee"/>
<circle cx="123.8" cy="483.4" r="3.7" fill="#0a0aee"/>
<circle cx="125.9" cy="485.2" r="3.7" fill="#0a0aee"/>
<circle cx="128" cy="487" r="3.7" fill="#0a0aee"/>
<circle cx="130.1" cy="488.8" r="3.7" fill="#0a0aee"/>
<circle cx="132.8" cy="489.25" r="3.7" fill="#0a0aee"/>
<circle cx="135.5" cy="489.7" r="3.7" fill="#0a0aee"/>
<circle cx="137.93" cy="488.8" r="3.7" fill="#0a0aee"/>
<circle cx="140.37" cy="487.9" r="3.7" fill="#0a0aee"/>
<circle cx="142.8" cy="487" r="3.7" fill="#0a0aee"/>
<circle cx="145.05" cy="485.88" r="3.7" fill="#0a0aee"/>
<circle cx="147.3" cy="484.75" r="3.7" fill="#0a0aee"/>
<circle cx="149.55" cy="483.62" r="3.7" fill="#0a0aee"/>
<circle cx="151.8" cy="482.5" r="3.7" fill="#0a0aee"/>
<circle cx="154.2" cy="483.4" r="3.7" fill="#0a0aee"/>
<circle cx="156.6" cy="484.3" r="3.7" fill="#0a0aee"/>
<circle cx="159" cy="485.2" r="3.7" fill="#0a0aee"/>
<circle cx="160.83" cy="484" r="3.7" fill="#0a0aee"/>
<circle cx="162.67" cy="482.8" r="3.7" fill="#0a0aee"/>
<circle cx="164.5" cy="481.6" r="3.7" fill="#0a0aee"/>
<circle cx="167.2" cy="480.9" r="3.7" fill="#0a0aee"/>
<circle cx="169.9" cy="480.2" r="3.7" fill="#0a0aee"/>
<circle cx="172.6" cy="479.5" r="3.7" fill="#0a0aee"/>
<circle cx="174.4" cy="480" r="3.7" fill="#0a0aee"/>
<circle cx="176.2" cy="480.5" r="3.7" fill="#0a0aee"/>
<circle cx="178" cy="481" r="3.7" fill="#0a0aee"/>
<circle cx="180" cy="481.2" r="3.7" fill="#0a0aee"/>
<circle cx="182" cy="481.4" r="3.7" fill="#0a0aee"/>
<circle cx="184" cy="481.6" r="3.7" fill="#0a0aee"/>
<circle cx="186" cy="481.67" r="3.7" fill="#0a0aee"/>
<circle cx="188" cy="481.73" r="3.7" fill="#0a0aee"/>
<circle cx="190" cy="481.8" r="3.7" fill="#0a0aee"/>
<circle cx="192.57" cy="482.27" r="3.7" fill="#0a0aee"/>
<circle cx="195.13" cy="482.73" r="3.7" fill="#0a0aee"/>
<circle cx="197.7" cy="483.2" r="3.7" fill="#0a0aee"/>
<circle cx="200.23" cy="483.87" r="3.7" fill="#0a0aee"/>
<circle cx="202.77" cy="484.53" r="3.7" fill="#0a0aee"/>
<circle cx="205.3" cy="485.2" r="3.7" fill="#0a0aee"/>
<circle cx="207.33" cy="486.13" r="3.7" fill="#0a0aee"/>
<circle cx="209.37" cy="487.07" r="3.7" fill="#0a0aee"/>
<circle cx="211.4" cy="488" r="3.7" fill="#0a0aee"/>
<circle cx="213.68" cy="488.1" r="3.7" fill="#0a0aee"/>
<circle cx="215.95" cy="488.2" r="3.7" fill="#0a0aee"/>
<circle cx="218.22" cy="488.3" r="3.7" fill="#0a0aee"/>
<circle cx="220.5" cy="488.4" r="3.7" fill="#0a0aee"/>
<circle cx="222.75" cy="488.38" r="3.7" fill="#0a0aee"/>
<circle cx="225" cy="488.35" r="3.7" fill="#0a0aee"/>
<circle cx="227.25" cy="488.32" r="3.7" fill="#0a0aee"/>
<circle cx="229.5" cy="488.3" r="3.7" fill="#0a0aee"/>
<circle cx="231.94" cy="488.52" r="3.7" fill="#0a0aee"/>
<circle cx="234.38" cy="488.74" r="3.7" fill="#0a0aee"/>
<circle cx="236.82" cy="488.96" r="3.7" fill="#0a0aee"/>
<circle cx="239.26" cy="489.18" r="3.7" fill="#0a0aee"/>
<circle cx="241.7" cy="489.4" r="3.7" fill="#0a0aee"/>
<circle cx="243.63" cy="490.1" r="3.7" fill="#0a0aee"/>
<circle cx="245.57" cy="490.8" r="3.7" fill="#0a0aee"/>
<circle cx="247.5" cy="491.5" r="3.7" fill="#0a0aee"/>
<circle cx="248.85" cy="492.55" r="3.7" fill="#0a0aee"/>
<circle cx="250.2" cy="493.6" r="3.7" fill="#0a0aee"/>
<circle cx="251.9" cy="494.8" r="3.7" fill="#0a0aee"/>
<circle cx="253.6" cy="496" r="3.7" fill="#0a0aee"/>
<polyline points="80.9,487.9 84,495.5 86.7,488.8 89.9,491.5 91.7,503.3 94.8,518.7 97.5,528.6 100.8,530.4 104.8,525 109.3,521.4 113.8,518.7 119.2,519.6 123.8,524.1 128.3,527.7 137.3,525 146.4,528.6 155.4,527.7 164.5,529.5 170,527.7 178.2,528.4 183.6,529.1 191.8,531.8 197.3,531.1 204,532 210.9,535.2 213,535.2" fill="none" stroke="#5030b0" stroke-width="1.2" stroke-linejoin="round" stroke-linecap="round" />
<circle cx="80.9" cy="487.9" r="3.5" fill="#3a08cc"/>
<circle cx="84" cy="495.5" r="3.5" fill="#3a08cc"/>
<circle cx="86.7" cy="488.8" r="3.5" fill="#3a08cc"/>
<circle cx="89.9" cy="491.5" r="3.5" fill="#3a08cc"/>
<circle cx="91.7" cy="503.3" r="3.5" fill="#3a08cc"/>
<circle cx="94.8" cy="518.7" r="3.5" fill="#3a08cc"/>
<circle cx="97.5" cy="528.6" r="3.7" fill="#3a08cc"/>
<circle cx="99.15" cy="529.5" r="3.7" fill="#3a08cc"/>
<circle cx="100.8" cy="530.4" r="3.7" fill="#3a08cc"/>
<circle cx="102.13" cy="528.6" r="3.7" fill="#3a08cc"/>
<circle cx="103.47" cy="526.8" r="3.7" fill="#3a08cc"/>
<circle cx="104.8" cy="525" r="3.7" fill="#3a08cc"/>
<circle cx="106.3" cy="523.8" r="3.7" fill="#3a08cc"/>
<circle cx="107.8" cy="522.6" r="3.7" fill="#3a08cc"/>
<circle cx="109.3" cy="521.4" r="3.7" fill="#3a08cc"/>
<circle cx="111.55" cy="520.05" r="3.7" fill="#3a08cc"/>
<circle cx="113.8" cy="518.7" r="3.7" fill="#3a08cc"/>
<circle cx="116.5" cy="519.15" r="3.7" fill="#3a08cc"/>
<circle cx="119.2" cy="519.6" r="3.7" fill="#3a08cc"/>
<circle cx="120.73" cy="521.1" r="3.7" fill="#3a08cc"/>
<circle cx="122.27" cy="522.6" r="3.7" fill="#3a08cc"/>
<circle cx="123.8" cy="524.1" r="3.7" fill="#3a08cc"/>
<circle cx="125.3" cy="525.3" r="3.7" fill="#3a08cc"/>
<circle cx="126.8" cy="526.5" r="3.7" fill="#3a08cc"/>
<circle cx="128.3" cy="527.7" r="3.7" fill="#3a08cc"/>
<circle cx="130.55" cy="527.03" r="3.7" fill="#3a08cc"/>
<circle cx="132.8" cy="526.35" r="3.7" fill="#3a08cc"/>
<circle cx="135.05" cy="525.67" r="3.7" fill="#3a08cc"/>
<circle cx="137.3" cy="525" r="3.7" fill="#3a08cc"/>
<circle cx="139.58" cy="525.9" r="3.7" fill="#3a08cc"/>
<circle cx="141.85" cy="526.8" r="3.7" fill="#3a08cc"/>
<circle cx="144.12" cy="527.7" r="3.7" fill="#3a08cc"/>
<circle cx="146.4" cy="528.6" r="3.7" fill="#3a08cc"/>
<circle cx="148.65" cy="528.38" r="3.7" fill="#3a08cc"/>
<circle cx="150.9" cy="528.15" r="3.7" fill="#3a08cc"/>
<circle cx="153.15" cy="527.93" r="3.7" fill="#3a08cc"/>
<circle cx="155.4" cy="527.7" r="3.7" fill="#3a08cc"/>
<circle cx="157.68" cy="528.15" r="3.7" fill="#3a08cc"/>
<circle cx="159.95" cy="528.6" r="3.7" fill="#3a08cc"/>
<circle cx="162.22" cy="529.05" r="3.7" fill="#3a08cc"/>
<circle cx="164.5" cy="529.5" r="3.7" fill="#3a08cc"/>
<circle cx="166.33" cy="528.9" r="3.7" fill="#3a08cc"/>
<circle cx="168.17" cy="528.3" r="3.7" fill="#3a08cc"/>
<circle cx="170" cy="527.7" r="3.7" fill="#3a08cc"/>
<circle cx="172.73" cy="527.93" r="3.7" fill="#3a08cc"/>
<circle cx="175.47" cy="528.17" r="3.7" fill="#3a08cc"/>
<circle cx="178.2" cy="528.4" r="3.7" fill="#3a08cc"/>
<circle cx="180.9" cy="528.75" r="3.7" fill="#3a08cc"/>
<circle cx="183.6" cy="529.1" r="3.7" fill="#3a08cc"/>
<circle cx="185.65" cy="529.77" r="3.7" fill="#3a08cc"/>
<circle cx="187.7" cy="530.45" r="3.7" fill="#3a08cc"/>
<circle cx="189.75" cy="531.12" r="3.7" fill="#3a08cc"/>
<circle cx="191.8" cy="531.8" r="3.7" fill="#3a08cc"/>
<circle cx="194.55" cy="531.45" r="3.7" fill="#3a08cc"/>
<circle cx="197.3" cy="531.1" r="3.7" fill="#3a08cc"/>
<circle cx="199.53" cy="531.4" r="3.7" fill="#3a08cc"/>
<circle cx="201.77" cy="531.7" r="3.7" fill="#3a08cc"/>
<circle cx="204" cy="532" r="3.7" fill="#3a08cc"/>
<circle cx="206.3" cy="533.07" r="3.7" fill="#3a08cc"/>
<circle cx="208.6" cy="534.13" r="3.7" fill="#3a08cc"/>
<circle cx="210.9" cy="535.2" r="3.7" fill="#3a08cc"/>
<circle cx="213" cy="535.2" r="3.7" fill="#3a08cc"/>
<polyline points="80.9,518.7 85.2,520.5 88.5,514.7 91.7,532.8 95.3,542.2 99,548.5 102,552.1 105.1,544.3 108.4,532.2 112,526.8 116,527.7 118.9,536.7 121.4,544 128.3,540.4 135.5,537.7 142.8,538.6 150,539.5 157.2,536.7 164.5,534.9 170,531.8 176.8,535.2 183.6,536.6 190.5,538 197.3,537.3 204.1,532 210.9,530.5 224.6,529.8 232.8,529.3 236.8,531.5 239.6,535.5 242.3,538.5 245.5,540.5" fill="none" stroke="#30d890" stroke-width="1.2" stroke-linejoin="round" stroke-linecap="round" />
<circle cx="80.9" cy="518.7" r="3.5" fill="#14f064"/>
<circle cx="85.2" cy="520.5" r="3.5" fill="#14f064"/>
<circle cx="88.5" cy="514.7" r="3.5" fill="#14f064"/>
<circle cx="91.7" cy="532.8" r="3.5" fill="#14f064"/>
<circle cx="95.3" cy="542.2" r="3.5" fill="#14f064"/>
<circle cx="99" cy="548.5" r="3.5" fill="#14f064"/>
<circle cx="102" cy="552.1" r="3.5" fill="#14f064"/>
<circle cx="105.1" cy="544.3" r="3.5" fill="#14f064"/>
<circle cx="108.4" cy="532.2" r="3.5" fill="#14f064"/>
<circle cx="112" cy="526.8" r="3.5" fill="#14f064"/>
<circle cx="116" cy="527.7" r="3.5" fill="#14f064"/>
<circle cx="118.9" cy="536.7" r="3.5" fill="#14f064"/>
<circle cx="121.4" cy="544" r="3.7" fill="#14f064"/>
<circle cx="123.7" cy="542.8" r="3.7" fill="#14f064"/>
<circle cx="126" cy="541.6" r="3.7" fill="#14f064"/>
<circle cx="128.3" cy="540.4" r="3.7" fill="#14f064"/>
<circle cx="130.7" cy="539.5" r="3.7" fill="#14f064"/>
<circle cx="133.1" cy="538.6" r="3.7" fill="#14f064"/>
<circle cx="135.5" cy="537.7" r="3.7" fill="#14f064"/>
<circle cx="137.93" cy="538" r="3.7" fill="#14f064"/>
<circle cx="140.37" cy="538.3" r="3.7" fill="#14f064"/>
<circle cx="142.8" cy="538.6" r="3.7" fill="#14f064"/>
<circle cx="145.2" cy="538.9" r="3.7" fill="#14f064"/>
<circle cx="147.6" cy="539.2" r="3.7" fill="#14f064"/>
<circle cx="150" cy="539.5" r="3.7" fill="#14f064"/>
<circle cx="152.4" cy="538.57" r="3.7" fill="#14f064"/>
<circle cx="154.8" cy="537.63" r="3.7" fill="#14f064"/>
<circle cx="157.2" cy="536.7" r="3.7" fill="#14f064"/>
<circle cx="159.63" cy="536.1" r="3.7" fill="#14f064"/>
<circle cx="162.07" cy="535.5" r="3.7" fill="#14f064"/>
<circle cx="164.5" cy="534.9" r="3.7" fill="#14f064"/>
<circle cx="166.33" cy="533.87" r="3.7" fill="#14f064"/>
<circle cx="168.17" cy="532.83" r="3.7" fill="#14f064"/>
<circle cx="170" cy="531.8" r="3.7" fill="#14f064"/>
<circle cx="172.27" cy="532.93" r="3.7" fill="#14f064"/>
<circle cx="174.53" cy="534.07" r="3.7" fill="#14f064"/>
<circle cx="176.8" cy="535.2" r="3.7" fill="#14f064"/>
<circle cx="179.07" cy="535.67" r="3.7" fill="#14f064"/>
<circle cx="181.33" cy="536.13" r="3.7" fill="#14f064"/>
<circle cx="183.6" cy="536.6" r="3.7" fill="#14f064"/>
<circle cx="185.9" cy="537.07" r="3.7" fill="#14f064"/>
<circle cx="188.2" cy="537.53" r="3.7" fill="#14f064"/>
<circle cx="190.5" cy="538" r="3.7" fill="#14f064"/>
<circle cx="192.77" cy="537.77" r="3.7" fill="#14f064"/>
<circle cx="195.03" cy="537.53" r="3.7" fill="#14f064"/>
<circle cx="197.3" cy="537.3" r="3.7" fill="#14f064"/>
<circle cx="199" cy="535.97" r="3.7" fill="#14f064"/>
<circle cx="200.7" cy="534.65" r="3.7" fill="#14f064"/>
<circle cx="202.4" cy="533.33" r="3.7" fill="#14f064"/>
<circle cx="204.1" cy="532" r="3.7" fill="#14f064"/>
<circle cx="206.37" cy="531.5" r="3.7" fill="#14f064"/>
<circle cx="208.63" cy="531" r="3.7" fill="#14f064"/>
<circle cx="210.9" cy="530.5" r="3.7" fill="#14f064"/>
<circle cx="213.64" cy="530.36" r="3.7" fill="#14f064"/>
<circle cx="216.38" cy="530.22" r="3.7" fill="#14f064"/>
<circle cx="219.12" cy="530.08" r="3.7" fill="#14f064"/>
<circle cx="221.86" cy="529.94" r="3.7" fill="#14f064"/>
<circle cx="224.6" cy="529.8" r="3.7" fill="#14f064"/>
<circle cx="227.33" cy="529.63" r="3.7" fill="#14f064"/>
<circle cx="230.07" cy="529.47" r="3.7" fill="#14f064"/>
<circle cx="232.8" cy="529.3" r="3.7" fill="#14f064"/>
<circle cx="234.8" cy="530.4" r="3.7" fill="#14f064"/>
<circle cx="236.8" cy="531.5" r="3.7" fill="#14f064"/>
<circle cx="238.2" cy="533.5" r="3.7" fill="#14f064"/>
<circle cx="239.6" cy="535.5" r="3.7" fill="#14f064"/>
<circle cx="240.95" cy="537" r="3.7" fill="#14f064"/>
<circle cx="242.3" cy="538.5" r="3.7" fill="#14f064"/>
<circle cx="243.9" cy="539.5" r="3.7" fill="#14f064"/>
<circle cx="245.5" cy="540.5" r="3.7" fill="#14f064"/>
<polyline points="83.4,474.3 88.5,480.7 93.5,470.2 99,481 103.9,498.4 108.7,508.2 112.9,515 119.2,513.6 123.8,504.2 129.2,497.8 133.7,492.4 141,494.2 148.2,497.8 155.4,500.6 162.7,504.2 169,503.3 173,501 178.6,498.5 187.1,502.1 195.6,504 201.7,502.1 211.4,497.3 223.5,500.3 235.6,499.7 247.7,500.6 260.9,502.4 269.6,503.5 282.7,500.8 293.6,498.6 304.5,498.1 315.4,497.2" fill="none" stroke="#c03030" stroke-width="1.2" stroke-linejoin="round" stroke-linecap="round" />
<circle cx="83.4" cy="474.3" r="3.5" fill="#f00808"/>
<circle cx="88.5" cy="480.7" r="3.5" fill="#f00808"/>
<circle cx="93.5" cy="470.2" r="3.5" fill="#f00808"/>
<circle cx="99" cy="481" r="3.5" fill="#f00808"/>
<circle cx="103.9" cy="498.4" r="3.5" fill="#f00808"/>
<circle cx="108.7" cy="508.2" r="3.5" fill="#f00808"/>
<circle cx="112.9" cy="515" r="3.5" fill="#f00808"/>
<circle cx="119.2" cy="513.6" r="3.5" fill="#f00808"/>
<circle cx="123.8" cy="504.2" r="3.5" fill="#f00808"/>
<circle cx="129.2" cy="497.8" r="3.5" fill="#f00808"/>
<circle cx="133.7" cy="492.4" r="3.7" fill="#f00808"/>
<circle cx="136.13" cy="493" r="3.7" fill="#f00808"/>
<circle cx="138.57" cy="493.6" r="3.7" fill="#f00808"/>
<circle cx="141" cy="494.2" r="3.7" fill="#f00808"/>
<circle cx="143.4" cy="495.4" r="3.7" fill="#f00808"/>
<circle cx="145.8" cy="496.6" r="3.7" fill="#f00808"/>
<circle cx="148.2" cy="497.8" r="3.7" fill="#f00808"/>
<circle cx="150.6" cy="498.73" r="3.7" fill="#f00808"/>
<circle cx="153" cy="499.67" r="3.7" fill="#f00808"/>
<circle cx="155.4" cy="500.6" r="3.7" fill="#f00808"/>
<circle cx="157.83" cy="501.8" r="3.7" fill="#f00808"/>
<circle cx="160.27" cy="503" r="3.7" fill="#f00808"/>
<circle cx="162.7" cy="504.2" r="3.7" fill="#f00808"/>
<circle cx="164.8" cy="503.9" r="3.7" fill="#f00808"/>
<circle cx="166.9" cy="503.6" r="3.7" fill="#f00808"/>
<circle cx="169" cy="503.3" r="3.7" fill="#f00808"/>
<circle cx="171" cy="502.15" r="3.7" fill="#f00808"/>
<circle cx="173" cy="501" r="3.7" fill="#f00808"/>
<circle cx="174.87" cy="500.17" r="3.7" fill="#f00808"/>
<circle cx="176.73" cy="499.33" r="3.7" fill="#f00808"/>
<circle cx="178.6" cy="498.5" r="3.7" fill="#f00808"/>
<circle cx="180.72" cy="499.4" r="3.7" fill="#f00808"/>
<circle cx="182.85" cy="500.3" r="3.7" fill="#f00808"/>
<circle cx="184.97" cy="501.2" r="3.7" fill="#f00808"/>
<circle cx="187.1" cy="502.1" r="3.7" fill="#f00808"/>
<circle cx="189.22" cy="502.58" r="3.7" fill="#f00808"/>
<circle cx="191.35" cy="503.05" r="3.7" fill="#f00808"/>
<circle cx="193.47" cy="503.52" r="3.7" fill="#f00808"/>
<circle cx="195.6" cy="504" r="3.7" fill="#f00808"/>
<circle cx="197.63" cy="503.37" r="3.7" fill="#f00808"/>
<circle cx="199.67" cy="502.73" r="3.7" fill="#f00808"/>
<circle cx="201.7" cy="502.1" r="3.7" fill="#f00808"/>
<circle cx="204.12" cy="500.9" r="3.7" fill="#f00808"/>
<circle cx="206.55" cy="499.7" r="3.7" fill="#f00808"/>
<circle cx="208.97" cy="498.5" r="3.7" fill="#f00808"/>
<circle cx="211.4" cy="497.3" r="3.7" fill="#f00808"/>
<circle cx="213.82" cy="497.9" r="3.7" fill="#f00808"/>
<circle cx="216.24" cy="498.5" r="3.7" fill="#f00808"/>
<circle cx="218.66" cy="499.1" r="3.7" fill="#f00808"/>
<circle cx="221.08" cy="499.7" r="3.7" fill="#f00808"/>
<circle cx="223.5" cy="500.3" r="3.7" fill="#f00808"/>
<circle cx="225.92" cy="500.18" r="3.7" fill="#f00808"/>
<circle cx="228.34" cy="500.06" r="3.7" fill="#f00808"/>
<circle cx="230.76" cy="499.94" r="3.7" fill="#f00808"/>
<circle cx="233.18" cy="499.82" r="3.7" fill="#f00808"/>
<circle cx="235.6" cy="499.7" r="3.7" fill="#f00808"/>
<circle cx="238.02" cy="499.88" r="3.7" fill="#f00808"/>
<circle cx="240.44" cy="500.06" r="3.7" fill="#f00808"/>
<circle cx="242.86" cy="500.24" r="3.7" fill="#f00808"/>
<circle cx="245.28" cy="500.42" r="3.7" fill="#f00808"/>
<circle cx="247.7" cy="500.6" r="3.7" fill="#f00808"/>
<circle cx="250.34" cy="500.96" r="3.7" fill="#f00808"/>
<circle cx="252.98" cy="501.32" r="3.7" fill="#f00808"/>
<circle cx="255.62" cy="501.68" r="3.7" fill="#f00808"/>
<circle cx="258.26" cy="502.04" r="3.7" fill="#f00808"/>
<circle cx="260.9" cy="502.4" r="3.7" fill="#f00808"/>
<circle cx="263.07" cy="502.67" r="3.7" fill="#f00808"/>
<circle cx="265.25" cy="502.95" r="3.7" fill="#f00808"/>
<circle cx="267.43" cy="503.23" r="3.7" fill="#f00808"/>
<circle cx="269.6" cy="503.5" r="3.7" fill="#f00808"/>
<circle cx="272.22" cy="502.96" r="3.7" fill="#f00808"/>
<circle cx="274.84" cy="502.42" r="3.7" fill="#f00808"/>
<circle cx="277.46" cy="501.88" r="3.7" fill="#f00808"/>
<circle cx="280.08" cy="501.34" r="3.7" fill="#f00808"/>
<circle cx="282.7" cy="500.8" r="3.7" fill="#f00808"/>
<circle cx="285.43" cy="500.25" r="3.7" fill="#f00808"/>
<circle cx="288.15" cy="499.7" r="3.7" fill="#f00808"/>
<circle cx="290.88" cy="499.15" r="3.7" fill="#f00808"/>
<circle cx="293.6" cy="498.6" r="3.7" fill="#f00808"/>
<circle cx="296.33" cy="498.48" r="3.7" fill="#f00808"/>
<circle cx="299.05" cy="498.35" r="3.7" fill="#f00808"/>
<circle cx="301.77" cy="498.23" r="3.7" fill="#f00808"/>
<circle cx="304.5" cy="498.1" r="3.7" fill="#f00808"/>
<circle cx="307.23" cy="497.88" r="3.7" fill="#f00808"/>
<circle cx="309.95" cy="497.65" r="3.7" fill="#f00808"/>
<circle cx="312.67" cy="497.43" r="3.7" fill="#f00808"/>
<circle cx="315.4" cy="497.2" r="3.7" fill="#f00808"/>
<polyline points="410.6,655.6 421.8,643.6 434.2,631.6 446.7,619.4 459.2,607 471.1,599.2 495.3,583.6 503.8,579.4 515.3,574.1 527.5,568.8 539.5,563.3 551.4,559.1 575.2,551.1 587.4,547.1 599.3,544.1 611.3,540.2 623.5,537.2 635.7,534.2 645.4,532.6" fill="none" stroke="#303030" stroke-width="0.9" stroke-linejoin="round" stroke-linecap="round" />
<rect x="411.33" y="647.96" width="6" height="6" fill="none" stroke="#333333" stroke-width="0.9"/>
<rect x="415.07" y="643.96" width="6" height="6" fill="none" stroke="#333333" stroke-width="0.9"/>
<rect x="422.93" y="635.96" width="6" height="6" fill="none" stroke="#333333" stroke-width="0.9"/>
<rect x="427.07" y="631.96" width="6" height="6" fill="none" stroke="#333333" stroke-width="0.9"/>
<rect x="435.37" y="623.89" width="6" height="6" fill="none" stroke="#333333" stroke-width="0.9"/>
<rect x="439.53" y="619.83" width="6" height="6" fill="none" stroke="#333333" stroke-width="0.9"/>
<rect x="447.87" y="611.63" width="6" height="6" fill="none" stroke="#333333" stroke-width="0.9"/>
<rect x="452.03" y="607.49" width="6" height="6" fill="none" stroke="#333333" stroke-width="0.9"/>
<rect x="460.17" y="600.76" width="6" height="6" fill="none" stroke="#333333" stroke-width="0.9"/>
<rect x="464.13" y="598.16" width="6" height="6" fill="none" stroke="#333333" stroke-width="0.9"/>
<rect x="476.6" y="590.36" width="6" height="6" fill="none" stroke="#333333" stroke-width="0.9"/>
<rect x="485.1" y="585.16" width="6" height="6" fill="none" stroke="#333333" stroke-width="0.9"/>
<rect x="497.5" y="577.48" width="6" height="6" fill="none" stroke="#333333" stroke-width="0.9"/>
<rect x="509" y="572.08" width="6" height="6" fill="none" stroke="#333333" stroke-width="0.9"/>
<rect x="521.2" y="566.7" width="6" height="6" fill="none" stroke="#333333" stroke-width="0.9"/>
<rect x="533.2" y="561.28" width="6" height="6" fill="none" stroke="#333333" stroke-width="0.9"/>
<rect x="545.1" y="556.76" width="6" height="6" fill="none" stroke="#333333" stroke-width="0.9"/>
<rect x="568.9" y="548.71" width="6" height="6" fill="none" stroke="#333333" stroke-width="0.9"/>
<rect x="581.1" y="544.68" width="6" height="6" fill="none" stroke="#333333" stroke-width="0.9"/>
<rect x="593" y="541.46" width="6" height="6" fill="none" stroke="#333333" stroke-width="0.9"/>
<rect x="605" y="537.78" width="6" height="6" fill="none" stroke="#333333" stroke-width="0.9"/>
<rect x="617.2" y="534.54" width="6" height="6" fill="none" stroke="#333333" stroke-width="0.9"/>
<rect x="629.4" y="531.54" width="6" height="6" fill="none" stroke="#333333" stroke-width="0.9"/>
<rect x="639.1" y="529.69" width="6" height="6" fill="none" stroke="#333333" stroke-width="0.9"/>
<polyline points="409,654 420.2,642 432.6,630 445.1,617.8 457.6,605.4 469.5,597.6 495,582 503.5,577.8 515,572.5 527.2,567.2 539.2,561.7 551.1,557.5 574.9,549.5 587.1,545.5 599,542.5 611,538.6 623.2,535.6 635.4,532.6 645.1,531" fill="none" stroke="#303030" stroke-width="1.3" stroke-linejoin="round" stroke-linecap="round" />
<rect x="405.8" y="650.8" width="6.4" height="6.4" fill="#222222" stroke="#222222" stroke-width="0.6"/>
<rect x="417" y="638.8" width="6.4" height="6.4" fill="#222222" stroke="#222222" stroke-width="0.6"/>
<rect x="429.4" y="626.8" width="6.4" height="6.4" fill="#222222" stroke="#222222" stroke-width="0.6"/>
<rect x="441.9" y="614.6" width="6.4" height="6.4" fill="#222222" stroke="#222222" stroke-width="0.6"/>
<rect x="454.4" y="602.2" width="6.4" height="6.4" fill="#222222" stroke="#222222" stroke-width="0.6"/>
<rect x="466.3" y="594.4" width="6.4" height="6.4" fill="#222222" stroke="#222222" stroke-width="0.6"/>
<rect x="491.8" y="578.8" width="6.4" height="6.4" fill="#222222" stroke="#222222" stroke-width="0.6"/>
<rect x="500.3" y="574.6" width="6.4" height="6.4" fill="#222222" stroke="#222222" stroke-width="0.6"/>
<rect x="511.8" y="569.3" width="6.4" height="6.4" fill="#222222" stroke="#222222" stroke-width="0.6"/>
<rect x="524" y="564" width="6.4" height="6.4" fill="#222222" stroke="#222222" stroke-width="0.6"/>
<rect x="536" y="558.5" width="6.4" height="6.4" fill="#222222" stroke="#222222" stroke-width="0.6"/>
<rect x="547.9" y="554.3" width="6.4" height="6.4" fill="#222222" stroke="#222222" stroke-width="0.6"/>
<rect x="571.7" y="546.3" width="6.4" height="6.4" fill="#222222" stroke="#222222" stroke-width="0.6"/>
<rect x="583.9" y="542.3" width="6.4" height="6.4" fill="#222222" stroke="#222222" stroke-width="0.6"/>
<rect x="595.8" y="539.3" width="6.4" height="6.4" fill="#222222" stroke="#222222" stroke-width="0.6"/>
<rect x="607.8" y="535.4" width="6.4" height="6.4" fill="#222222" stroke="#222222" stroke-width="0.6"/>
<rect x="620" y="532.4" width="6.4" height="6.4" fill="#222222" stroke="#222222" stroke-width="0.6"/>
<rect x="632.2" y="529.4" width="6.4" height="6.4" fill="#222222" stroke="#222222" stroke-width="0.6"/>
<rect x="641.9" y="527.8" width="6.4" height="6.4" fill="#222222" stroke="#222222" stroke-width="0.6"/>
<polyline points="410.6,654.6 421.8,642.6 434.2,629.1 446.7,616.9 459.2,603.8 471.1,594.5 495.3,576.4 503.8,572.4 515.3,565.6 527.5,559.1 539.5,553.4 551.4,548.3 575.2,538.8 587.4,534.2 599.3,530.3 611.3,526.4 623.5,523.4 635.7,520 645.4,517.2" fill="none" stroke="#f0a020" stroke-width="0.9" stroke-linejoin="round" stroke-linecap="round" />
<rect x="411.33" y="646.96" width="6" height="6" fill="none" stroke="#ee9a30" stroke-width="0.9"/>
<rect x="415.07" y="642.96" width="6" height="6" fill="none" stroke="#ee9a30" stroke-width="0.9"/>
<rect x="422.93" y="634.46" width="6" height="6" fill="none" stroke="#ee9a30" stroke-width="0.9"/>
<rect x="427.07" y="629.96" width="6" height="6" fill="none" stroke="#ee9a30" stroke-width="0.9"/>
<rect x="435.37" y="621.39" width="6" height="6" fill="none" stroke="#ee9a30" stroke-width="0.9"/>
<rect x="439.53" y="617.33" width="6" height="6" fill="none" stroke="#ee9a30" stroke-width="0.9"/>
<rect x="447.87" y="608.89" width="6" height="6" fill="none" stroke="#ee9a30" stroke-width="0.9"/>
<rect x="452.03" y="604.53" width="6" height="6" fill="none" stroke="#ee9a30" stroke-width="0.9"/>
<rect x="460.17" y="597.06" width="6" height="6" fill="none" stroke="#ee9a30" stroke-width="0.9"/>
<rect x="464.13" y="593.96" width="6" height="6" fill="none" stroke="#ee9a30" stroke-width="0.9"/>
<rect x="476.6" y="584.83" width="6" height="6" fill="none" stroke="#ee9a30" stroke-width="0.9"/>
<rect x="485.1" y="578.79" width="6" height="6" fill="none" stroke="#ee9a30" stroke-width="0.9"/>
<rect x="497.5" y="570.41" width="6" height="6" fill="none" stroke="#ee9a30" stroke-width="0.9"/>
<rect x="509" y="563.97" width="6" height="6" fill="none" stroke="#ee9a30" stroke-width="0.9"/>
<rect x="521.2" y="557.3" width="6" height="6" fill="none" stroke="#ee9a30" stroke-width="0.9"/>
<rect x="533.2" y="551.42" width="6" height="6" fill="none" stroke="#ee9a30" stroke-width="0.9"/>
<rect x="545.1" y="546.19" width="6" height="6" fill="none" stroke="#ee9a30" stroke-width="0.9"/>
<rect x="568.9" y="536.6" width="6" height="6" fill="none" stroke="#ee9a30" stroke-width="0.9"/>
<rect x="581.1" y="531.93" width="6" height="6" fill="none" stroke="#ee9a30" stroke-width="0.9"/>
<rect x="593" y="527.88" width="6" height="6" fill="none" stroke="#ee9a30" stroke-width="0.9"/>
<rect x="605" y="523.98" width="6" height="6" fill="none" stroke="#ee9a30" stroke-width="0.9"/>
<rect x="617.2" y="520.74" width="6" height="6" fill="none" stroke="#ee9a30" stroke-width="0.9"/>
<rect x="629.4" y="517.44" width="6" height="6" fill="none" stroke="#ee9a30" stroke-width="0.9"/>
<rect x="639.1" y="514.67" width="6" height="6" fill="none" stroke="#ee9a30" stroke-width="0.9"/>
<polyline points="409,653 420.2,641 432.6,627.5 445.1,615.3 457.6,602.2 469.5,592.9 495,574.8 503.5,570.8 515,564 527.2,557.5 539.2,551.8 551.1,546.7 574.9,537.2 587.1,532.6 599,528.7 611,524.8 623.2,521.8 635.4,518.4 645.1,515.6" fill="none" stroke="#f0a020" stroke-width="1.3" stroke-linejoin="round" stroke-linecap="round" />
<rect x="405.8" y="649.8" width="6.4" height="6.4" fill="#ff9a10" stroke="#ff9a10" stroke-width="0.6"/>
<rect x="417" y="637.8" width="6.4" height="6.4" fill="#ff9a10" stroke="#ff9a10" stroke-width="0.6"/>
<rect x="429.4" y="624.3" width="6.4" height="6.4" fill="#ff9a10" stroke="#ff9a10" stroke-width="0.6"/>
<rect x="441.9" y="612.1" width="6.4" height="6.4" fill="#ff9a10" stroke="#ff9a10" stroke-width="0.6"/>
<rect x="454.4" y="599" width="6.4" height="6.4" fill="#ff9a10" stroke="#ff9a10" stroke-width="0.6"/>
<rect x="466.3" y="589.7" width="6.4" height="6.4" fill="#ff9a10" stroke="#ff9a10" stroke-width="0.6"/>
<rect x="491.8" y="571.6" width="6.4" height="6.4" fill="#ff9a10" stroke="#ff9a10" stroke-width="0.6"/>
<rect x="500.3" y="567.6" width="6.4" height="6.4" fill="#ff9a10" stroke="#ff9a10" stroke-width="0.6"/>
<rect x="511.8" y="560.8" width="6.4" height="6.4" fill="#ff9a10" stroke="#ff9a10" stroke-width="0.6"/>
<rect x="524" y="554.3" width="6.4" height="6.4" fill="#ff9a10" stroke="#ff9a10" stroke-width="0.6"/>
<rect x="536" y="548.6" width="6.4" height="6.4" fill="#ff9a10" stroke="#ff9a10" stroke-width="0.6"/>
<rect x="547.9" y="543.5" width="6.4" height="6.4" fill="#ff9a10" stroke="#ff9a10" stroke-width="0.6"/>
<rect x="571.7" y="534" width="6.4" height="6.4" fill="#ff9a10" stroke="#ff9a10" stroke-width="0.6"/>
<rect x="583.9" y="529.4" width="6.4" height="6.4" fill="#ff9a10" stroke="#ff9a10" stroke-width="0.6"/>
<rect x="595.8" y="525.5" width="6.4" height="6.4" fill="#ff9a10" stroke="#ff9a10" stroke-width="0.6"/>
<rect x="607.8" y="521.6" width="6.4" height="6.4" fill="#ff9a10" stroke="#ff9a10" stroke-width="0.6"/>
<rect x="620" y="518.6" width="6.4" height="6.4" fill="#ff9a10" stroke="#ff9a10" stroke-width="0.6"/>
<rect x="632.2" y="515.2" width="6.4" height="6.4" fill="#ff9a10" stroke="#ff9a10" stroke-width="0.6"/>
<rect x="641.9" y="512.4" width="6.4" height="6.4" fill="#ff9a10" stroke="#ff9a10" stroke-width="0.6"/>
<polyline points="410.8,653.8 421.6,641 434.1,624 446.5,609.6 458.9,598.4 471.6,587 495.3,568.9 503.5,563.8 515.3,556.4 527.5,547.6 539.5,540.2 551.4,533.3 575.2,521.8 587.4,516.5 599.3,511.2 611.3,505 623.5,496.5 635.7,491.2 645.4,487.3" fill="none" stroke="#d030c0" stroke-width="0.9" stroke-linejoin="round" stroke-linecap="round" />
<rect x="411.4" y="645.89" width="6" height="6" fill="none" stroke="#dd40c8" stroke-width="0.9"/>
<rect x="415" y="641.63" width="6" height="6" fill="none" stroke="#dd40c8" stroke-width="0.9"/>
<rect x="422.77" y="631.69" width="6" height="6" fill="none" stroke="#dd40c8" stroke-width="0.9"/>
<rect x="426.93" y="626.03" width="6" height="6" fill="none" stroke="#dd40c8" stroke-width="0.9"/>
<rect x="435.23" y="615.56" width="6" height="6" fill="none" stroke="#dd40c8" stroke-width="0.9"/>
<rect x="439.37" y="610.76" width="6" height="6" fill="none" stroke="#dd40c8" stroke-width="0.9"/>
<rect x="447.63" y="602.23" width="6" height="6" fill="none" stroke="#dd40c8" stroke-width="0.9"/>
<rect x="451.77" y="598.49" width="6" height="6" fill="none" stroke="#dd40c8" stroke-width="0.9"/>
<rect x="460.13" y="590.96" width="6" height="6" fill="none" stroke="#dd40c8" stroke-width="0.9"/>
<rect x="464.37" y="587.16" width="6" height="6" fill="none" stroke="#dd40c8" stroke-width="0.9"/>
<rect x="476.93" y="577.33" width="6" height="6" fill="none" stroke="#dd40c8" stroke-width="0.9"/>
<rect x="485.27" y="571.29" width="6" height="6" fill="none" stroke="#dd40c8" stroke-width="0.9"/>
<rect x="497.2" y="562.27" width="6" height="6" fill="none" stroke="#dd40c8" stroke-width="0.9"/>
<rect x="509" y="554.88" width="6" height="6" fill="none" stroke="#dd40c8" stroke-width="0.9"/>
<rect x="521.2" y="546.36" width="6" height="6" fill="none" stroke="#dd40c8" stroke-width="0.9"/>
<rect x="533.2" y="538.65" width="6" height="6" fill="none" stroke="#dd40c8" stroke-width="0.9"/>
<rect x="545.1" y="531.64" width="6" height="6" fill="none" stroke="#dd40c8" stroke-width="0.9"/>
<rect x="568.9" y="519.85" width="6" height="6" fill="none" stroke="#dd40c8" stroke-width="0.9"/>
<rect x="581.1" y="514.4" width="6" height="6" fill="none" stroke="#dd40c8" stroke-width="0.9"/>
<rect x="593" y="509.14" width="6" height="6" fill="none" stroke="#dd40c8" stroke-width="0.9"/>
<rect x="605" y="503.15" width="6" height="6" fill="none" stroke="#dd40c8" stroke-width="0.9"/>
<rect x="617.2" y="495.19" width="6" height="6" fill="none" stroke="#dd40c8" stroke-width="0.9"/>
<rect x="629.4" y="489.1" width="6" height="6" fill="none" stroke="#dd40c8" stroke-width="0.9"/>
<rect x="639.1" y="485.11" width="6" height="6" fill="none" stroke="#dd40c8" stroke-width="0.9"/>
<polyline points="409.2,652.2 420,639.4 432.5,622.4 444.9,608 457.3,596.8 470,585.4 495,567.3 503.2,562.2 515,554.8 527.2,546 539.2,538.6 551.1,531.7 574.9,520.2 587.1,514.9 599,509.6 611,503.4 623.2,494.9 635.4,489.6 645.1,485.7" fill="none" stroke="#d030c0" stroke-width="1.3" stroke-linejoin="round" stroke-linecap="round" />
<rect x="406" y="649" width="6.4" height="6.4" fill="#f010cc" stroke="#f010cc" stroke-width="0.6"/>
<rect x="416.8" y="636.2" width="6.4" height="6.4" fill="#f010cc" stroke="#f010cc" stroke-width="0.6"/>
<rect x="429.3" y="619.2" width="6.4" height="6.4" fill="#f010cc" stroke="#f010cc" stroke-width="0.6"/>
<rect x="441.7" y="604.8" width="6.4" height="6.4" fill="#f010cc" stroke="#f010cc" stroke-width="0.6"/>
<rect x="454.1" y="593.6" width="6.4" height="6.4" fill="#f010cc" stroke="#f010cc" stroke-width="0.6"/>
<rect x="466.8" y="582.2" width="6.4" height="6.4" fill="#f010cc" stroke="#f010cc" stroke-width="0.6"/>
<rect x="491.8" y="564.1" width="6.4" height="6.4" fill="#f010cc" stroke="#f010cc" stroke-width="0.6"/>
<rect x="500" y="559" width="6.4" height="6.4" fill="#f010cc" stroke="#f010cc" stroke-width="0.6"/>
<rect x="511.8" y="551.6" width="6.4" height="6.4" fill="#f010cc" stroke="#f010cc" stroke-width="0.6"/>
<rect x="524" y="542.8" width="6.4" height="6.4" fill="#f010cc" stroke="#f010cc" stroke-width="0.6"/>
<rect x="536" y="535.4" width="6.4" height="6.4" fill="#f010cc" stroke="#f010cc" stroke-width="0.6"/>
<rect x="547.9" y="528.5" width="6.4" height="6.4" fill="#f010cc" stroke="#f010cc" stroke-width="0.6"/>
<rect x="571.7" y="517" width="6.4" height="6.4" fill="#f010cc" stroke="#f010cc" stroke-width="0.6"/>
<rect x="583.9" y="511.7" width="6.4" height="6.4" fill="#f010cc" stroke="#f010cc" stroke-width="0.6"/>
<rect x="595.8" y="506.4" width="6.4" height="6.4" fill="#f010cc" stroke="#f010cc" stroke-width="0.6"/>
<rect x="607.8" y="500.2" width="6.4" height="6.4" fill="#f010cc" stroke="#f010cc" stroke-width="0.6"/>
<rect x="620" y="491.7" width="6.4" height="6.4" fill="#f010cc" stroke="#f010cc" stroke-width="0.6"/>
<rect x="632.2" y="486.4" width="6.4" height="6.4" fill="#f010cc" stroke="#f010cc" stroke-width="0.6"/>
<rect x="641.9" y="482.5" width="6.4" height="6.4" fill="#f010cc" stroke="#f010cc" stroke-width="0.6"/>
<polyline points="408.3,655.9 409.5,651.8 420,626.2 433.1,599.4 445.9,576.9 458.2,558.2 470.1,541.1 495.3,514 503.1,506.2 515.3,494.9 527.5,483.6 539.5,474.4 551.4,465.7 575.2,449.5 587.4,441.5 599.3,434.1 611.3,427 623.5,420.3 635.7,414.3 645.4,409.7" fill="none" stroke="#4420dd" stroke-width="0.9" stroke-linejoin="round" stroke-linecap="round" />
<rect x="405.9" y="650.61" width="6" height="6" fill="none" stroke="#8877aa" stroke-width="0.9"/>
<rect x="410" y="640.03" width="6" height="6" fill="none" stroke="#8877aa" stroke-width="0.9"/>
<rect x="413.5" y="631.49" width="6" height="6" fill="none" stroke="#8877aa" stroke-width="0.9"/>
<rect x="421.37" y="614.03" width="6" height="6" fill="none" stroke="#8877aa" stroke-width="0.9"/>
<rect x="425.73" y="605.09" width="6" height="6" fill="none" stroke="#8877aa" stroke-width="0.9"/>
<rect x="434.37" y="588.66" width="6" height="6" fill="none" stroke="#8877aa" stroke-width="0.9"/>
<rect x="438.63" y="581.16" width="6" height="6" fill="none" stroke="#8877aa" stroke-width="0.9"/>
<rect x="447" y="567.43" width="6" height="6" fill="none" stroke="#8877aa" stroke-width="0.9"/>
<rect x="451.1" y="561.19" width="6" height="6" fill="none" stroke="#8877aa" stroke-width="0.9"/>
<rect x="459.17" y="549.26" width="6" height="6" fill="none" stroke="#8877aa" stroke-width="0.9"/>
<rect x="463.13" y="543.56" width="6" height="6" fill="none" stroke="#8877aa" stroke-width="0.9"/>
<rect x="475.6" y="528.49" width="6" height="6" fill="none" stroke="#8877aa" stroke-width="0.9"/>
<rect x="484.1" y="519.13" width="6" height="6" fill="none" stroke="#8877aa" stroke-width="0.9"/>
<rect x="496.8" y="505.8" width="6" height="6" fill="none" stroke="#8877aa" stroke-width="0.9"/>
<rect x="509" y="494.28" width="6" height="6" fill="none" stroke="#8877aa" stroke-width="0.9"/>
<rect x="521.2" y="482.98" width="6" height="6" fill="none" stroke="#8877aa" stroke-width="0.9"/>
<rect x="533.2" y="473.3" width="6" height="6" fill="none" stroke="#8877aa" stroke-width="0.9"/>
<rect x="545.1" y="464.49" width="6" height="6" fill="none" stroke="#8877aa" stroke-width="0.9"/>
<rect x="568.9" y="448.14" width="6" height="6" fill="none" stroke="#8877aa" stroke-width="0.9"/>
<rect x="581.1" y="440.07" width="6" height="6" fill="none" stroke="#8877aa" stroke-width="0.9"/>
<rect x="593" y="432.57" width="6" height="6" fill="none" stroke="#8877aa" stroke-width="0.9"/>
<rect x="605" y="425.37" width="6" height="6" fill="none" stroke="#8877aa" stroke-width="0.9"/>
<rect x="617.2" y="418.55" width="6" height="6" fill="none" stroke="#8877aa" stroke-width="0.9"/>
<rect x="629.4" y="412.38" width="6" height="6" fill="none" stroke="#8877aa" stroke-width="0.9"/>
<rect x="639.1" y="407.72" width="6" height="6" fill="none" stroke="#8877aa" stroke-width="0.9"/>
<polyline points="407.7,655.3 408.9,651.2 419.4,625.6 432.5,598.8 445.3,576.3 457.6,557.6 469.5,540.5 495,512.4 502.8,504.6 515,493.3 527.2,482 539.2,472.8 551.1,464.1 574.9,447.9 587.1,439.9 599,432.5 611,425.4 623.2,418.7 635.4,412.7 645.1,408.1" fill="none" stroke="#4420dd" stroke-width="1.3" stroke-linejoin="round" stroke-linecap="round" />
<rect x="404.5" y="652.1" width="6.4" height="6.4" fill="#5010ee" stroke="#5010ee" stroke-width="0.6"/>
<rect x="405.7" y="648" width="6.4" height="6.4" fill="#5010ee" stroke="#5010ee" stroke-width="0.6"/>
<rect x="416.2" y="622.4" width="6.4" height="6.4" fill="#5010ee" stroke="#5010ee" stroke-width="0.6"/>
<rect x="429.3" y="595.6" width="6.4" height="6.4" fill="#5010ee" stroke="#5010ee" stroke-width="0.6"/>
<rect x="442.1" y="573.1" width="6.4" height="6.4" fill="#5010ee" stroke="#5010ee" stroke-width="0.6"/>
<rect x="454.4" y="554.4" width="6.4" height="6.4" fill="#5010ee" stroke="#5010ee" stroke-width="0.6"/>
<rect x="466.3" y="537.3" width="6.4" height="6.4" fill="#5010ee" stroke="#5010ee" stroke-width="0.6"/>
<rect x="491.8" y="509.2" width="6.4" height="6.4" fill="#5010ee" stroke="#5010ee" stroke-width="0.6"/>
<rect x="499.6" y="501.4" width="6.4" height="6.4" fill="#5010ee" stroke="#5010ee" stroke-width="0.6"/>
<rect x="511.8" y="490.1" width="6.4" height="6.4" fill="#5010ee" stroke="#5010ee" stroke-width="0.6"/>
<rect x="524" y="478.8" width="6.4" height="6.4" fill="#5010ee" stroke="#5010ee" stroke-width="0.6"/>
<rect x="536" y="469.6" width="6.4" height="6.4" fill="#5010ee" stroke="#5010ee" stroke-width="0.6"/>
<rect x="547.9" y="460.9" width="6.4" height="6.4" fill="#5010ee" stroke="#5010ee" stroke-width="0.6"/>
<rect x="571.7" y="444.7" width="6.4" height="6.4" fill="#5010ee" stroke="#5010ee" stroke-width="0.6"/>
<rect x="583.9" y="436.7" width="6.4" height="6.4" fill="#5010ee" stroke="#5010ee" stroke-width="0.6"/>
<rect x="595.8" y="429.3" width="6.4" height="6.4" fill="#5010ee" stroke="#5010ee" stroke-width="0.6"/>
<rect x="607.8" y="422.2" width="6.4" height="6.4" fill="#5010ee" stroke="#5010ee" stroke-width="0.6"/>
<rect x="620" y="415.5" width="6.4" height="6.4" fill="#5010ee" stroke="#5010ee" stroke-width="0.6"/>
<rect x="632.2" y="409.5" width="6.4" height="6.4" fill="#5010ee" stroke="#5010ee" stroke-width="0.6"/>
<rect x="641.9" y="404.9" width="6.4" height="6.4" fill="#5010ee" stroke="#5010ee" stroke-width="0.6"/>
<rect x="73.7" y="8.4" width="249" height="296.8" fill="none" stroke="#000" stroke-width="1.6"/>
<rect x="402.7" y="8.4" width="249" height="296.8" fill="none" stroke="#000" stroke-width="1.6"/>
<rect x="73.7" y="367" width="249.3" height="296.9" fill="none" stroke="#000" stroke-width="1.6"/>
<rect x="402.7" y="366.8" width="248.9" height="296.9" fill="none" stroke="#000" stroke-width="1.6"/>
<line x1="66.4" y1="300.5" x2="73.7" y2="300.5" stroke="#000" stroke-width="1.5"/>
<text x="62" y="305.9" text-anchor="end" class="t">0</text>
<line x1="66.4" y1="256.27" x2="73.7" y2="256.27" stroke="#000" stroke-width="1.5"/>
<text x="62" y="261.67" text-anchor="end" class="t">20</text>
<line x1="66.4" y1="212.03" x2="73.7" y2="212.03" stroke="#000" stroke-width="1.5"/>
<text x="62" y="217.43" text-anchor="end" class="t">40</text>
<line x1="66.4" y1="167.8" x2="73.7" y2="167.8" stroke="#000" stroke-width="1.5"/>
<text x="62" y="173.2" text-anchor="end" class="t">60</text>
<line x1="66.4" y1="123.56" x2="73.7" y2="123.56" stroke="#000" stroke-width="1.5"/>
<text x="62" y="128.96" text-anchor="end" class="t">80</text>
<line x1="66.4" y1="79.33" x2="73.7" y2="79.33" stroke="#000" stroke-width="1.5"/>
<text x="62" y="84.73" text-anchor="end" class="t"><tspan class="one">1</tspan>00</text>
<line x1="66.4" y1="35.1" x2="73.7" y2="35.1" stroke="#000" stroke-width="1.5"/>
<text x="62" y="40.5" text-anchor="end" class="t"><tspan class="one">1</tspan>20</text>
<line x1="78.5" y1="305.2" x2="78.5" y2="312.7" stroke="#000" stroke-width="1.5"/>
<text x="78.5" y="331.4" text-anchor="middle" class="t">0.0</text>
<line x1="124.12" y1="305.2" x2="124.12" y2="312.7" stroke="#000" stroke-width="1.5"/>
<text x="124.12" y="331.4" text-anchor="middle" class="t">0.2</text>
<line x1="169.74" y1="305.2" x2="169.74" y2="312.7" stroke="#000" stroke-width="1.5"/>
<text x="169.74" y="331.4" text-anchor="middle" class="t">0.4</text>
<line x1="215.36" y1="305.2" x2="215.36" y2="312.7" stroke="#000" stroke-width="1.5"/>
<text x="215.36" y="331.4" text-anchor="middle" class="t">0.6</text>
<line x1="260.98" y1="305.2" x2="260.98" y2="312.7" stroke="#000" stroke-width="1.5"/>
<text x="260.98" y="331.4" text-anchor="middle" class="t">0.8</text>
<line x1="306.6" y1="305.2" x2="306.6" y2="312.7" stroke="#000" stroke-width="1.5"/>
<text x="306.6" y="331.4" text-anchor="middle" class="t"><tspan class="one">1</tspan>.0</text>
<line x1="395.4" y1="300.5" x2="402.7" y2="300.5" stroke="#000" stroke-width="1.5"/>
<text x="391" y="305.9" text-anchor="end" class="t">0</text>
<line x1="395.4" y1="243.08" x2="402.7" y2="243.08" stroke="#000" stroke-width="1.5"/>
<text x="391" y="248.48" text-anchor="end" class="t">20</text>
<line x1="395.4" y1="185.66" x2="402.7" y2="185.66" stroke="#000" stroke-width="1.5"/>
<text x="391" y="191.06" text-anchor="end" class="t">40</text>
<line x1="395.4" y1="128.24" x2="402.7" y2="128.24" stroke="#000" stroke-width="1.5"/>
<text x="391" y="133.64" text-anchor="end" class="t">60</text>
<line x1="395.4" y1="70.82" x2="402.7" y2="70.82" stroke="#000" stroke-width="1.5"/>
<text x="391" y="76.22" text-anchor="end" class="t">80</text>
<line x1="395.4" y1="13.4" x2="402.7" y2="13.4" stroke="#000" stroke-width="1.5"/>
<text x="391" y="18.8" text-anchor="end" class="t"><tspan class="one">1</tspan>00</text>
<line x1="407.7" y1="305.2" x2="407.7" y2="312.7" stroke="#000" stroke-width="1.5"/>
<text x="407.7" y="331.4" text-anchor="middle" class="t">0.0</text>
<line x1="453.06" y1="305.2" x2="453.06" y2="312.7" stroke="#000" stroke-width="1.5"/>
<text x="453.06" y="331.4" text-anchor="middle" class="t">0.2</text>
<line x1="498.42" y1="305.2" x2="498.42" y2="312.7" stroke="#000" stroke-width="1.5"/>
<text x="498.42" y="331.4" text-anchor="middle" class="t">0.4</text>
<line x1="543.78" y1="305.2" x2="543.78" y2="312.7" stroke="#000" stroke-width="1.5"/>
<text x="543.78" y="331.4" text-anchor="middle" class="t">0.6</text>
<line x1="589.14" y1="305.2" x2="589.14" y2="312.7" stroke="#000" stroke-width="1.5"/>
<text x="589.14" y="331.4" text-anchor="middle" class="t">0.8</text>
<line x1="634.5" y1="305.2" x2="634.5" y2="312.7" stroke="#000" stroke-width="1.5"/>
<text x="634.5" y="331.4" text-anchor="middle" class="t"><tspan class="one">1</tspan>.0</text>
<line x1="66.4" y1="659.2" x2="73.7" y2="659.2" stroke="#000" stroke-width="1.5"/>
<text x="62" y="664.6" text-anchor="end" class="t">5</text>
<line x1="66.4" y1="601.66" x2="73.7" y2="601.66" stroke="#000" stroke-width="1.5"/>
<text x="62" y="607.06" text-anchor="end" class="t"><tspan class="one">1</tspan>0</text>
<line x1="66.4" y1="544.12" x2="73.7" y2="544.12" stroke="#000" stroke-width="1.5"/>
<text x="62" y="549.52" text-anchor="end" class="t"><tspan class="one">1</tspan>5</text>
<line x1="66.4" y1="486.58" x2="73.7" y2="486.58" stroke="#000" stroke-width="1.5"/>
<text x="62" y="491.98" text-anchor="end" class="t">20</text>
<line x1="66.4" y1="429.04" x2="73.7" y2="429.04" stroke="#000" stroke-width="1.5"/>
<text x="62" y="434.44" text-anchor="end" class="t">25</text>
<line x1="66.4" y1="371.5" x2="73.7" y2="371.5" stroke="#000" stroke-width="1.5"/>
<text x="62" y="376.9" text-anchor="end" class="t">30</text>
<line x1="78.5" y1="663.9" x2="78.5" y2="671.4" stroke="#000" stroke-width="1.5"/>
<text x="78.5" y="690.3" text-anchor="middle" class="t">0</text>
<line x1="131.75" y1="663.9" x2="131.75" y2="671.4" stroke="#000" stroke-width="1.5"/>
<text x="131.75" y="690.3" text-anchor="middle" class="t">20</text>
<line x1="185" y1="663.9" x2="185" y2="671.4" stroke="#000" stroke-width="1.5"/>
<text x="185" y="690.3" text-anchor="middle" class="t">40</text>
<line x1="238.25" y1="663.9" x2="238.25" y2="671.4" stroke="#000" stroke-width="1.5"/>
<text x="238.25" y="690.3" text-anchor="middle" class="t">60</text>
<line x1="291.5" y1="663.9" x2="291.5" y2="671.4" stroke="#000" stroke-width="1.5"/>
<text x="291.5" y="690.3" text-anchor="middle" class="t">80</text>
<line x1="395.4" y1="659" x2="402.7" y2="659" stroke="#000" stroke-width="1.5"/>
<text x="391" y="664.4" text-anchor="end" class="t">0</text>
<line x1="395.4" y1="611.07" x2="402.7" y2="611.07" stroke="#000" stroke-width="1.5"/>
<text x="391" y="616.47" text-anchor="end" class="t"><tspan class="one">1</tspan>0</text>
<line x1="395.4" y1="563.14" x2="402.7" y2="563.14" stroke="#000" stroke-width="1.5"/>
<text x="391" y="568.54" text-anchor="end" class="t">20</text>
<line x1="395.4" y1="515.21" x2="402.7" y2="515.21" stroke="#000" stroke-width="1.5"/>
<text x="391" y="520.61" text-anchor="end" class="t">30</text>
<line x1="395.4" y1="467.28" x2="402.7" y2="467.28" stroke="#000" stroke-width="1.5"/>
<text x="391" y="472.68" text-anchor="end" class="t">40</text>
<line x1="395.4" y1="419.35" x2="402.7" y2="419.35" stroke="#000" stroke-width="1.5"/>
<text x="391" y="424.75" text-anchor="end" class="t">50</text>
<line x1="395.4" y1="371.42" x2="402.7" y2="371.42" stroke="#000" stroke-width="1.5"/>
<text x="391" y="376.82" text-anchor="end" class="t">60</text>
<line x1="407.4" y1="663.7" x2="407.4" y2="671.2" stroke="#000" stroke-width="1.5"/>
<text x="407.4" y="690" text-anchor="middle" class="t">0</text>
<line x1="455" y1="663.7" x2="455" y2="671.2" stroke="#000" stroke-width="1.5"/>
<text x="455" y="690" text-anchor="middle" class="t">20</text>
<line x1="502.6" y1="663.7" x2="502.6" y2="671.2" stroke="#000" stroke-width="1.5"/>
<text x="502.6" y="690" text-anchor="middle" class="t">40</text>
<line x1="550.2" y1="663.7" x2="550.2" y2="671.2" stroke="#000" stroke-width="1.5"/>
<text x="550.2" y="690" text-anchor="middle" class="t">60</text>
<line x1="597.8" y1="663.7" x2="597.8" y2="671.2" stroke="#000" stroke-width="1.5"/>
<text x="597.8" y="690" text-anchor="middle" class="t">80</text>
<line x1="645.4" y1="663.7" x2="645.4" y2="671.2" stroke="#000" stroke-width="1.5"/>
<text x="645.4" y="690" text-anchor="middle" class="t"><tspan class="one">1</tspan>00</text>
<text x="1.2" y="26.6" class="pl">(a)</text>
<text x="328.6" y="25.8" class="pl">(b)</text>
<text x="4.0" y="385.8" class="pl">(c)</text>
<text x="331.8" y="385.8" class="pl">(d)</text>
<text transform="translate(27.4,243.4) rotate(-90)" class="al">CO<tspan font-size="10.5" dy="4">2</tspan><tspan dy="-4" letter-spacing="0.42"> Adsorbed</tspan><tspan> (cm</tspan><tspan class="sup" dy="-9.4">3</tspan><tspan dy="9.4"> / g)</tspan></text>
<text transform="translate(358.4,241.3) rotate(-90)" class="al">CO<tspan font-size="10.5" dy="4">2</tspan><tspan dy="-4" letter-spacing="0.42"> Adsorbed</tspan><tspan> (cm</tspan><tspan class="sup" dy="-9.4">3</tspan><tspan dy="9.4"> / g)</tspan></text>
<text transform="translate(36.3,518.2) rotate(-90)" text-anchor="middle" class="al" letter-spacing="0.18">Heat of Adsorption (kJ / mol)</text>
<text transform="translate(358.4,599.2) rotate(-90)" class="al">CH<tspan font-size="10.5" dy="4">4</tspan><tspan dy="-4" letter-spacing="0.42"> Adsorbed</tspan><tspan> (cm</tspan><tspan class="sup" dy="-9.4">3</tspan><tspan dy="9.4"> / g)</tspan></text>
<text x="198.4" y="350.3" text-anchor="middle" class="al">Pressure (bar)</text>
<text x="527.3" y="350.3" text-anchor="middle" class="al">Pressure (bar)</text>
<text x="527.1" y="708.8" text-anchor="middle" class="al">Pressure (bar)</text>
<text x="184.6" y="705.3" text-anchor="middle" class="al">CO<tspan font-size="10.5" dy="5">2</tspan><tspan dy="-5"> Uptake (cm</tspan><tspan class="sup" dy="-8.6" dx="1.6">3</tspan><tspan dy="8.6" dx="0.6"> / g)</tspan></text>
<line x1="169.2" y1="243.2" x2="192.2" y2="243.2" stroke="#2a50f0" stroke-width="1.2"/>
<polygon points="176.9,240.99 184.5,240.99 180.7,247.68" fill="#0a18d0" stroke="#0a18d0" stroke-width="0.6"/>
<text x="197.6" y="247.4" class="lg">FCMP-600@<tspan class="one">1</tspan>-273 K</text>
<line x1="169.2" y1="257.9" x2="192.2" y2="257.9" stroke="#8844e8" stroke-width="1.2"/>
<polygon points="176.9,255.69 184.5,255.69 180.7,262.38" fill="#36089a" stroke="#36089a" stroke-width="0.6"/>
<text x="197.6" y="262.1" class="lg">FCMP-600@2-273 K</text>
<line x1="169.2" y1="272.4" x2="192.2" y2="272.4" stroke="#30e4ec" stroke-width="1.2"/>
<polygon points="176.9,270.19 184.5,270.19 180.7,276.88" fill="#22eef5" stroke="#22eef5" stroke-width="0.6"/>
<text x="197.6" y="276.6" class="lg">FCMP-600@3-273 K</text>
<line x1="169.2" y1="287.5" x2="192.2" y2="287.5" stroke="#7a0000" stroke-width="1.2"/>
<polygon points="176.9,285.29 184.5,285.29 180.7,291.98" fill="#ee0a0a" stroke="#ee0a0a" stroke-width="0.6"/>
<text x="197.6" y="291.7" class="lg">FCMP-600@4-273 K</text>
<line x1="502.6" y1="243.3" x2="526.4" y2="243.3" stroke="#55dd55" stroke-width="1.2"/>
<circle cx="514.5" cy="243.3" r="3.7" fill="#18f820"/>
<text x="531.2" y="247.5" class="lg">FCMP-600@<tspan class="one">1</tspan>-298 K</text>
<line x1="502.6" y1="257.9" x2="526.4" y2="257.9" stroke="#aaaa22" stroke-width="1.2"/>
<circle cx="514.5" cy="257.9" r="3.7" fill="#d4c000"/>
<text x="531.2" y="262.1" class="lg">FCMP-600@2-298 K</text>
<line x1="502.6" y1="272.4" x2="526.4" y2="272.4" stroke="#993399" stroke-width="1.2"/>
<circle cx="514.5" cy="272.4" r="3.7" fill="#f20ccc"/>
<text x="531.2" y="276.6" class="lg">FCMP-600@3-298 K</text>
<line x1="502.6" y1="287.5" x2="526.4" y2="287.5" stroke="#994444" stroke-width="1.2"/>
<circle cx="514.5" cy="287.5" r="3.7" fill="#ee0a0a"/>
<text x="531.2" y="291.7" class="lg">FCMP-600@4-298 K</text>
<line x1="206.2" y1="594.2" x2="229" y2="594.2" stroke="#3322aa" stroke-width="1.2"/>
<circle cx="217.6" cy="594.2" r="3.7" fill="#0a0aee"/>
<text x="234.3" y="598.4" class="lg" style="font-size:12px">FCMP-600@<tspan class="one">1</tspan></text>
<line x1="206.2" y1="609" x2="229" y2="609" stroke="#554466" stroke-width="1.2"/>
<circle cx="217.6" cy="609" r="3.7" fill="#3a08cc"/>
<text x="234.3" y="613.2" class="lg" style="font-size:12px">FCMP-600@2</text>
<line x1="206.2" y1="622.9" x2="229" y2="622.9" stroke="#44ccaa" stroke-width="1.2"/>
<circle cx="217.6" cy="622.9" r="3.7" fill="#14f064"/>
<text x="234.3" y="627.1" class="lg" style="font-size:12px">FCMP-600@3</text>
<line x1="206.2" y1="637.5" x2="229" y2="637.5" stroke="#883333" stroke-width="1.2"/>
<circle cx="217.6" cy="637.5" r="3.7" fill="#ee0a0a"/>
<text x="234.3" y="641.7" class="lg" style="font-size:12px">FCMP-600@4</text>
<line x1="503.3" y1="599.4" x2="526.4" y2="599.4" stroke="#aa5588" stroke-width="1.2"/>
<rect x="511.35" y="596.3" width="7" height="7" fill="#ee11cc" stroke="#ee11cc" stroke-width="0.6"/>
<text x="531.7" y="603.6" class="lg">FCMP-600@<tspan class="one">1</tspan>-273 K</text>
<line x1="503.3" y1="613.9" x2="526.4" y2="613.9" stroke="#222222" stroke-width="1.2"/>
<rect x="511.35" y="610.8" width="7" height="7" fill="#151515" stroke="#151515" stroke-width="0.6"/>
<text x="531.7" y="618.1" class="lg">FCMP-600@2-273 K</text>
<line x1="503.3" y1="628.5" x2="526.4" y2="628.5" stroke="#ccaa55" stroke-width="1.2"/>
<rect x="511.35" y="625.4" width="7" height="7" fill="#ff8c00" stroke="#ff8c00" stroke-width="0.6"/>
<text x="531.7" y="632.7" class="lg">FCMP-600@3-273 K</text>
<line x1="503.3" y1="643" x2="526.4" y2="643" stroke="#555577" stroke-width="1.2"/>
<rect x="511.35" y="639.9" width="7" height="7" fill="#4a0aee" stroke="#4a0aee" stroke-width="0.6"/>
<text x="531.7" y="647.2" class="lg">FCMP-600@4-273 K</text>
<path d="M478,0L478,1170L140,959L140,1180L493,1409L759,1409L759,0Z" transform="translate(36.97,84.73) scale(0.00732,-0.00732)" fill="#000" stroke="#000" stroke-width="41.0"/>
<path d="M478,0L478,1170L140,959L140,1180L493,1409L759,1409L759,0Z" transform="translate(36.97,40.50) scale(0.00732,-0.00732)" fill="#000" stroke="#000" stroke-width="41.0"/>
<path d="M478,0L478,1170L140,959L140,1180L493,1409L759,1409L759,0Z" transform="translate(296.17,331.40) scale(0.00732,-0.00732)" fill="#000" stroke="#000" stroke-width="41.0"/>
<path d="M478,0L478,1170L140,959L140,1180L493,1409L759,1409L759,0Z" transform="translate(365.97,18.80) scale(0.00732,-0.00732)" fill="#000" stroke="#000" stroke-width="41.0"/>
<path d="M478,0L478,1170L140,959L140,1180L493,1409L759,1409L759,0Z" transform="translate(624.07,331.40) scale(0.00732,-0.00732)" fill="#000" stroke="#000" stroke-width="41.0"/>
<path d="M478,0L478,1170L140,959L140,1180L493,1409L759,1409L759,0Z" transform="translate(45.31,607.06) scale(0.00732,-0.00732)" fill="#000" stroke="#000" stroke-width="41.0"/>
<path d="M478,0L478,1170L140,959L140,1180L493,1409L759,1409L759,0Z" transform="translate(45.31,549.52) scale(0.00732,-0.00732)" fill="#000" stroke="#000" stroke-width="41.0"/>
<path d="M478,0L478,1170L140,959L140,1180L493,1409L759,1409L759,0Z" transform="translate(374.31,616.47) scale(0.00732,-0.00732)" fill="#000" stroke="#000" stroke-width="41.0"/>
<path d="M478,0L478,1170L140,959L140,1180L493,1409L759,1409L759,0Z" transform="translate(632.88,690.00) scale(0.00732,-0.00732)" fill="#000" stroke="#000" stroke-width="41.0"/>
<path d="M478,0L478,1170L140,959L140,1180L493,1409L759,1409L759,0Z" transform="translate(265.51,247.40) scale(0.00571,-0.00571)" fill="#000" stroke="#000" stroke-width="43.8"/>
<path d="M478,0L478,1170L140,959L140,1180L493,1409L759,1409L759,0Z" transform="translate(599.11,247.50) scale(0.00571,-0.00571)" fill="#000" stroke="#000" stroke-width="43.8"/>
<path d="M478,0L478,1170L140,959L140,1180L493,1409L759,1409L759,0Z" transform="translate(304.02,598.40) scale(0.00586,-0.00586)" fill="#000" stroke="#000" stroke-width="42.7"/>
<path d="M478,0L478,1170L140,959L140,1180L493,1409L759,1409L759,0Z" transform="translate(599.61,603.60) scale(0.00571,-0.00571)" fill="#000" stroke="#000" stroke-width="43.8"/>
</svg>
</body></html>
